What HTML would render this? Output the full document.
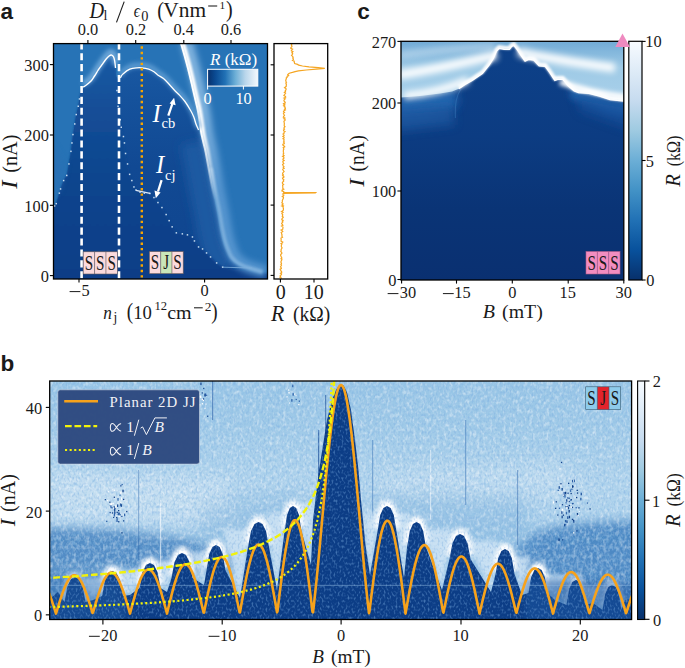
<!DOCTYPE html>
<html><head><meta charset="utf-8"><style>
html,body{margin:0;padding:0;background:#fff;width:685px;height:668px;overflow:hidden;}
svg{display:block;}
text{font-family:"Liberation Serif",serif;fill:#1a1a1a;}
.sans{font-family:"Liberation Sans",sans-serif;font-weight:bold;fill:#1a1a1a;}
.it{font-style:italic;}
</style></head><body>
<svg width="685" height="668" viewBox="0 0 685 668">
<defs>
  <clipPath id="cA"><rect x="53.5" y="43.5" width="214" height="235.5"/></clipPath>
  <clipPath id="cA2"><rect x="274" y="43.5" width="53.7" height="235.5"/></clipPath>
  <clipPath id="cC"><rect x="401" y="41.3" width="222.8" height="238.7"/></clipPath>
  <clipPath id="cB"><rect x="49.5" y="381" width="582" height="239"/></clipPath>
  <filter id="bl05" filterUnits="userSpaceOnUse" x="-20" y="-20" width="725" height="708"><feGaussianBlur stdDeviation="0.5"/></filter>
  <filter id="bl1" filterUnits="userSpaceOnUse" x="-20" y="-20" width="725" height="708"><feGaussianBlur stdDeviation="1"/></filter>
  <filter id="bl2" filterUnits="userSpaceOnUse" x="-20" y="-20" width="725" height="708"><feGaussianBlur stdDeviation="2"/></filter>
  <filter id="bl3" filterUnits="userSpaceOnUse" x="-20" y="-20" width="725" height="708"><feGaussianBlur stdDeviation="3"/></filter>
  <filter id="bl5" filterUnits="userSpaceOnUse" x="-20" y="-20" width="725" height="708"><feGaussianBlur stdDeviation="5"/></filter>
  <filter id="bl8" filterUnits="userSpaceOnUse" x="-20" y="-20" width="725" height="708"><feGaussianBlur stdDeviation="8"/></filter>
  <linearGradient id="cbA" x1="0" y1="0" x2="1" y2="0">
    <stop offset="0" stop-color="#08306b"/><stop offset="0.15" stop-color="#0a4a92"/>
    <stop offset="0.35" stop-color="#2171b5"/><stop offset="0.55" stop-color="#6baed6"/>
    <stop offset="0.75" stop-color="#b9d6eb"/><stop offset="1" stop-color="#f3f8fd"/>
  </linearGradient>
  <linearGradient id="cbV" x1="0" y1="1" x2="0" y2="0">
    <stop offset="0" stop-color="#08306b"/><stop offset="0.125" stop-color="#08519c"/>
    <stop offset="0.25" stop-color="#2171b5"/><stop offset="0.375" stop-color="#4292c6"/>
    <stop offset="0.5" stop-color="#6baed6"/><stop offset="0.625" stop-color="#9ecae1"/>
    <stop offset="0.75" stop-color="#c6dbef"/><stop offset="0.875" stop-color="#deebf7"/>
    <stop offset="1" stop-color="#f7fbff"/>
  </linearGradient>
</defs>
<g clip-path="url(#cA)"><rect x="53" y="43" width="215" height="237" fill="#2773b6"/><defs><linearGradient id="gAd" gradientUnits="userSpaceOnUse" x1="0" y1="55" x2="0" y2="279"><stop offset="0" stop-color="#1a5aa4"/><stop offset="0.2" stop-color="#15529c"/><stop offset="0.5" stop-color="#114993"/><stop offset="1" stop-color="#0f458f"/></linearGradient><linearGradient id="gAl" gradientUnits="userSpaceOnUse" x1="0" y1="55" x2="0" y2="279"><stop offset="0" stop-color="#1a5aa4"/><stop offset="0.25" stop-color="#134e97"/><stop offset="0.55" stop-color="#0f458e"/><stop offset="1" stop-color="#0c3e87"/></linearGradient></defs><path fill="url(#gAd)" d="M53.0,207.0 L56.3,203.7 L59.4,193.2 L60.5,189.0 L63.6,180.6 L66.8,175.4 L68.9,163.9 L71.0,151.3 L72.0,142.9 L73.0,134.5 L74.7,124.0 L76.2,114.6 L78.3,106.2 L79.4,98.9 L80.5,92.0 L82.0,88.0 L83.2,87.2 L87.0,84.5 L91.5,80.4 L94.5,76.0 L98.2,70.0 L102.0,64.7 L105.7,59.5 L109.4,55.7 L111.7,55.1 L113.5,56.8 L114.7,61.0 L115.5,68.0 L116.0,76.0 L118.0,79.0 L120.4,77.9 L123.0,73.9 L129.8,69.2 L136.6,67.8 L142.0,67.8 L148.7,69.2 L154.0,71.8 L158.1,75.2 L163.5,78.6 L168.9,84.0 L174.3,90.0 L179.7,95.4 L185.0,101.5 L190.5,110.3 L193.8,117.0 L195.9,123.7 L198.5,130.0 L205.6,152.0 L208.5,168.0 L211.5,185.0 L214.5,200.0 L217.5,215.0 L220.0,230.0 L222.8,242.0 L225.7,250.0 L229.0,257.0 L234.0,262.0 L241.0,266.0 L250.0,269.0 L260.0,272.0 L268.0,275.0 L268.0,280.0 L53.0,280.0 Z"/><path fill="none" stroke="#1a5aa2" stroke-width="22" filter="url(#bl5)" d="M191.5,143.0 C191.8,144.5 192.8,147.8 193.6,152.0 C194.4,156.2 195.5,162.5 196.5,168.0 C197.5,173.5 198.5,179.7 199.5,185.0 C200.5,190.3 201.5,195.0 202.5,200.0 C203.5,205.0 204.6,210.0 205.5,215.0 C206.4,220.0 207.1,225.5 208.0,230.0 C208.9,234.5 209.9,238.7 210.8,242.0 C211.8,245.3 212.7,247.5 213.7,250.0 C214.7,252.5 215.6,255.0 217.0,257.0 C218.4,259.0 220.0,260.5 222.0,262.0 C224.0,263.5 227.8,265.3 229.0,266.0"/><path fill="url(#gAl)" filter="url(#bl1)" d="M53.0,208.0 L56.3,203.7 L59.4,193.2 L60.5,189.0 L63.6,180.6 L66.8,175.4 L68.9,163.9 L71.0,151.3 L72.0,142.9 L73.0,134.5 L74.7,124.0 L76.2,114.6 L78.3,106.2 L79.4,98.9 L80.0,95.0 L82.0,90.0 L83.2,89.2 L87.0,86.5 L91.5,82.4 L94.5,78.0 L98.2,72.0 L102.0,66.7 L105.7,61.5 L109.4,57.7 L111.7,57.1 L113.5,58.8 L114.7,63.0 L115.5,70.0 L116.0,80.0 L118.0,95.0 L118.1,106.2 L120.2,119.8 L121.3,127.2 L123.4,136.6 L124.4,142.9 L125.5,153.4 L127.6,163.9 L129.7,174.3 L131.8,180.6 L133.9,186.9 L136.0,190.1 L140.1,192.2 L144.3,193.2 L150.0,193.4 L154.0,197.5 L158.0,202.5 L162.0,207.6 L166.2,214.6 L169.2,220.7 L172.2,226.8 L176.3,232.8 L182.3,233.8 L187.4,234.8 L192.4,236.9 L194.4,240.9 L198.5,247.0 L202.5,249.0 L206.6,253.0 L210.6,257.0 L216.7,263.0 L222.7,267.2 L235.0,270.0 L268.0,273.0 L268.0,282.0 L53.0,282.0 Z"/><path fill="#2a6fb3" opacity="0.5" filter="url(#bl3)" d="M50,140 L66,165 L60,190 L50,200 Z"/><defs><linearGradient id="gBandW" gradientUnits="userSpaceOnUse" x1="0" y1="130" x2="0" y2="200"><stop offset="0" stop-color="#ffffff" stop-opacity="1"/><stop offset="1" stop-color="#ffffff" stop-opacity="0"/></linearGradient><linearGradient id="gBandL" gradientUnits="userSpaceOnUse" x1="0" y1="110" x2="0" y2="190"><stop offset="0" stop-color="#7fb2de" stop-opacity="1"/><stop offset="1" stop-color="#5494cf" stop-opacity="1"/></linearGradient></defs><path fill="none" stroke="url(#gBandL)" stroke-width="12" filter="url(#bl3)" d="M186.6,42.0 C187.3,44.4 189.5,51.8 190.8,56.5 C192.1,61.2 193.3,65.5 194.4,70.0 C195.5,74.5 196.6,78.9 197.6,83.4 C198.6,87.9 199.7,92.6 200.7,96.9 C201.7,101.2 202.7,105.0 203.5,109.0 C204.3,113.0 204.9,117.0 205.5,121.0 C206.1,125.0 206.6,129.3 207.3,133.0 C208.0,136.7 208.8,139.8 209.5,143.0 C210.2,146.2 210.8,147.8 211.6,152.0 C212.4,156.2 213.5,162.5 214.5,168.0 C215.5,173.5 216.5,179.7 217.5,185.0 C218.5,190.3 219.5,195.0 220.5,200.0 C221.5,205.0 222.6,210.0 223.5,215.0 C224.4,220.0 225.1,225.5 226.0,230.0 C226.9,234.5 227.9,238.7 228.8,242.0 C229.8,245.3 230.7,247.5 231.7,250.0 C232.7,252.5 233.6,255.0 235.0,257.0 C236.4,259.0 238.0,260.5 240.0,262.0 C242.0,263.5 244.3,264.8 247.0,266.0 C249.7,267.2 252.8,268.0 256.0,269.0 C259.2,270.0 264.3,271.5 266.0,272.0"/><path fill="none" stroke="#8dbbe3" stroke-width="4" opacity="0.7" filter="url(#bl1)" d="M211.0,168.0 C211.5,170.8 213.0,179.7 214.0,185.0 C215.0,190.3 216.0,195.0 217.0,200.0 C218.0,205.0 219.1,210.0 220.0,215.0 C220.9,220.0 221.6,225.5 222.5,230.0 C223.4,234.5 224.4,238.7 225.3,242.0 C226.2,245.3 227.2,247.5 228.2,250.0 C229.2,252.5 230.1,255.0 231.5,257.0 C232.9,259.0 234.5,260.5 236.5,262.0 C238.5,263.5 240.8,264.8 243.5,266.0 C246.2,267.2 249.3,268.0 252.5,269.0 C255.7,270.0 260.8,271.5 262.5,272.0"/><path fill="none" stroke="url(#gBandW)" stroke-width="4" filter="url(#bl1)" d="M182.8,42.0 C183.5,44.4 185.7,51.8 187.0,56.5 C188.3,61.2 189.5,65.5 190.6,70.0 C191.7,74.5 192.8,78.9 193.8,83.4 C194.8,87.9 195.9,92.6 196.9,96.9 C197.9,101.2 198.9,105.0 199.7,109.0 C200.5,113.0 201.1,117.0 201.7,121.0 C202.3,125.0 202.8,129.3 203.5,133.0 C204.2,136.7 205.0,139.8 205.7,143.0 C206.4,146.2 207.0,147.8 207.8,152.0 C208.6,156.2 209.7,162.5 210.7,168.0 C211.7,173.5 212.7,179.7 213.7,185.0 C214.7,190.3 215.7,195.0 216.7,200.0 C217.7,205.0 218.8,210.0 219.7,215.0 C220.6,220.0 221.8,227.5 222.2,230.0"/><path fill="none" stroke="url(#gBandW)" stroke-width="1.9" d="M180.6,42.0 C181.3,44.4 183.5,51.8 184.8,56.5 C186.1,61.2 187.3,65.5 188.4,70.0 C189.5,74.5 190.6,78.9 191.6,83.4 C192.6,87.9 193.7,92.6 194.7,96.9 C195.7,101.2 196.7,105.0 197.5,109.0 C198.3,113.0 198.9,117.0 199.5,121.0 C200.1,125.0 200.6,129.3 201.3,133.0 C202.0,136.7 202.8,139.8 203.5,143.0 C204.2,146.2 204.8,147.8 205.6,152.0 C206.4,156.2 207.5,162.5 208.5,168.0 C209.5,173.5 210.5,179.7 211.5,185.0 C212.5,190.3 213.5,195.0 214.5,200.0 C215.5,205.0 216.6,210.0 217.5,215.0 C218.4,220.0 219.6,227.5 220.0,230.0"/><path fill="none" stroke="#6ea7d9" stroke-width="6" filter="url(#bl2)" d="M83.2,84.2 C83.8,83.8 85.6,82.6 87.0,81.5 C88.4,80.4 90.2,78.8 91.5,77.4 C92.8,76.0 93.4,74.7 94.5,73.0 C95.6,71.3 97.0,68.9 98.2,67.0 C99.5,65.1 100.8,63.5 102.0,61.7 C103.2,60.0 104.5,58.0 105.7,56.5 C106.9,55.0 108.4,53.4 109.4,52.7 C110.4,52.0 111.0,51.9 111.7,52.1 C112.4,52.3 113.0,52.8 113.5,53.8 C114.0,54.8 114.4,56.1 114.7,58.0 C115.0,59.9 115.4,63.8 115.5,65.0"/><path fill="none" stroke="#5d9bd2" stroke-width="5" filter="url(#bl2)" d="M120.4,75.4 C120.8,74.7 121.4,72.9 123.0,71.4 C124.6,70.0 127.5,67.7 129.8,66.7 C132.1,65.7 134.6,65.5 136.6,65.3 C138.6,65.1 140.0,65.1 142.0,65.3 C144.0,65.5 146.7,66.0 148.7,66.7 C150.7,67.4 152.4,68.3 154.0,69.3 C155.6,70.3 156.5,71.6 158.1,72.7 C159.7,73.8 161.7,74.6 163.5,76.1 C165.3,77.6 167.1,79.6 168.9,81.5 C170.7,83.4 172.5,85.6 174.3,87.5 C176.1,89.4 177.9,91.0 179.7,92.9 C181.5,94.8 183.2,96.5 185.0,99.0 C186.8,101.5 189.0,105.2 190.5,107.8 C192.0,110.4 192.9,112.3 193.8,114.5 C194.7,116.7 195.1,119.0 195.9,121.2 C196.7,123.4 198.1,126.5 198.5,127.5"/><path fill="none" stroke="#ffffff" stroke-width="1.4" d="M83.2,87.2 C83.8,86.8 85.6,85.6 87.0,84.5 C88.4,83.4 90.2,81.8 91.5,80.4 C92.8,79.0 93.4,77.7 94.5,76.0 C95.6,74.3 97.0,71.9 98.2,70.0 C99.5,68.1 100.8,66.5 102.0,64.7 C103.2,63.0 104.5,61.0 105.7,59.5 C106.9,58.0 108.4,56.4 109.4,55.7 C110.4,55.0 111.0,54.9 111.7,55.1 C112.4,55.3 113.0,55.8 113.5,56.8 C114.0,57.8 114.4,59.1 114.7,61.0 C115.0,62.9 115.4,66.8 115.5,68.0"/><path fill="none" stroke="#ffffff" stroke-width="1.3" d="M120.4,77.9 C120.8,77.2 121.4,75.4 123.0,73.9 C124.6,72.5 127.5,70.2 129.8,69.2 C132.1,68.2 134.6,68.0 136.6,67.8 C138.6,67.6 140.0,67.6 142.0,67.8 C144.0,68.0 146.7,68.5 148.7,69.2 C150.7,69.9 152.4,70.8 154.0,71.8 C155.6,72.8 156.5,74.1 158.1,75.2 C159.7,76.3 161.7,77.1 163.5,78.6 C165.3,80.1 167.1,82.1 168.9,84.0 C170.7,85.9 172.5,88.1 174.3,90.0 C176.1,91.9 177.9,93.5 179.7,95.4 C181.5,97.3 183.2,99.0 185.0,101.5 C186.8,104.0 189.0,107.7 190.5,110.3 C192.0,112.9 192.9,114.8 193.8,117.0 C194.7,119.2 195.1,121.5 195.9,123.7 C196.7,125.9 198.1,128.9 198.5,130.0"/><rect x="53.8" y="205.2" width="1.5" height="1.5" fill="#c6dcf1"/><rect x="55.5" y="202.9" width="1.5" height="1.5" fill="#c6dcf1"/><rect x="58.6" y="192.4" width="1.5" height="1.5" fill="#c6dcf1"/><rect x="59.8" y="188.2" width="1.5" height="1.5" fill="#c6dcf1"/><rect x="62.9" y="179.8" width="1.5" height="1.5" fill="#c6dcf1"/><rect x="66.0" y="174.7" width="1.5" height="1.5" fill="#c6dcf1"/><rect x="68.2" y="163.2" width="1.5" height="1.5" fill="#c6dcf1"/><rect x="70.2" y="150.6" width="1.5" height="1.5" fill="#c6dcf1"/><rect x="71.2" y="142.2" width="1.5" height="1.5" fill="#c6dcf1"/><rect x="72.2" y="133.8" width="1.5" height="1.5" fill="#c6dcf1"/><rect x="74.0" y="123.2" width="1.5" height="1.5" fill="#c6dcf1"/><rect x="75.5" y="113.8" width="1.5" height="1.5" fill="#c6dcf1"/><rect x="77.5" y="105.5" width="1.5" height="1.5" fill="#c6dcf1"/><rect x="78.7" y="98.2" width="1.5" height="1.5" fill="#c6dcf1"/><rect x="116.2" y="89.8" width="1.5" height="1.5" fill="#c6dcf1"/><rect x="117.3" y="105.5" width="1.5" height="1.5" fill="#c6dcf1"/><rect x="119.5" y="119.0" width="1.5" height="1.5" fill="#c6dcf1"/><rect x="120.5" y="126.5" width="1.5" height="1.5" fill="#c6dcf1"/><rect x="122.7" y="135.8" width="1.5" height="1.5" fill="#c6dcf1"/><rect x="123.7" y="142.2" width="1.5" height="1.5" fill="#c6dcf1"/><rect x="124.8" y="152.7" width="1.5" height="1.5" fill="#c6dcf1"/><rect x="126.8" y="163.2" width="1.5" height="1.5" fill="#c6dcf1"/><rect x="128.9" y="173.6" width="1.5" height="1.5" fill="#c6dcf1"/><rect x="131.1" y="179.8" width="1.5" height="1.5" fill="#c6dcf1"/><rect x="133.2" y="186.2" width="1.5" height="1.5" fill="#c6dcf1"/><rect x="135.2" y="189.3" width="1.5" height="1.5" fill="#c6dcf1"/><rect x="139.3" y="191.4" width="1.5" height="1.5" fill="#c6dcf1"/><rect x="143.6" y="192.4" width="1.5" height="1.5" fill="#c6dcf1"/><rect x="149.2" y="192.7" width="1.5" height="1.5" fill="#c6dcf1"/><rect x="153.2" y="196.8" width="1.5" height="1.5" fill="#c6dcf1"/><rect x="157.2" y="201.8" width="1.5" height="1.5" fill="#c6dcf1"/><rect x="161.2" y="206.8" width="1.5" height="1.5" fill="#c6dcf1"/><rect x="165.4" y="213.8" width="1.5" height="1.5" fill="#c6dcf1"/><rect x="168.4" y="219.9" width="1.5" height="1.5" fill="#c6dcf1"/><rect x="171.4" y="226.1" width="1.5" height="1.5" fill="#c6dcf1"/><rect x="175.6" y="232.1" width="1.5" height="1.5" fill="#c6dcf1"/><rect x="181.6" y="233.1" width="1.5" height="1.5" fill="#c6dcf1"/><rect x="186.7" y="234.1" width="1.5" height="1.5" fill="#c6dcf1"/><rect x="191.7" y="236.2" width="1.5" height="1.5" fill="#c6dcf1"/><rect x="193.7" y="240.2" width="1.5" height="1.5" fill="#c6dcf1"/><rect x="197.8" y="246.2" width="1.5" height="1.5" fill="#c6dcf1"/><rect x="201.8" y="248.2" width="1.5" height="1.5" fill="#c6dcf1"/><rect x="205.8" y="252.2" width="1.5" height="1.5" fill="#c6dcf1"/><rect x="209.8" y="256.2" width="1.5" height="1.5" fill="#c6dcf1"/><rect x="215.9" y="262.2" width="1.5" height="1.5" fill="#c6dcf1"/><rect x="221.9" y="266.4" width="1.5" height="1.5" fill="#c6dcf1"/><path fill="none" stroke="#dfeaf6" stroke-width="1.3" d="M136,190.3 L150,193.3"/><path fill="none" stroke="#7fb0dd" stroke-width="1" opacity="0.8" d="M222.7,267.2 L252,268"/><line x1="81.6" y1="42.3" x2="81.6" y2="281" stroke="#fff" stroke-width="2.6" stroke-dasharray="7.1 3.8"/><line x1="119" y1="42.3" x2="119" y2="281" stroke="#fff" stroke-width="2.6" stroke-dasharray="7.1 3.8"/><line x1="141.8" y1="46.3" x2="141.8" y2="281" stroke="#f7a500" stroke-width="2.4" stroke-dasharray="2.4 3.05"/><rect x="83.20" y="251.80" width="11.37" height="22.20" fill="#fadadd"/><rect x="94.57" y="251.80" width="11.37" height="22.20" fill="#fadadd"/><rect x="105.93" y="251.80" width="11.37" height="22.20" fill="#fadadd"/><rect x="83.20" y="251.80" width="34.10" height="22.20" fill="none" stroke="#6a5a5a" stroke-width="0.6"/><line x1="94.57" y1="251.80" x2="94.57" y2="274.00" stroke="#6a5a5a" stroke-width="0.6"/><line x1="105.93" y1="251.80" x2="105.93" y2="274.00" stroke="#6a5a5a" stroke-width="0.6"/><text transform="translate(88.88,269.60) scale(0.72,1)" font-size="21.0" text-anchor="middle" style="fill:#1a1a1a">S</text><text transform="translate(100.25,269.60) scale(0.72,1)" font-size="21.0" text-anchor="middle" style="fill:#1a1a1a">S</text><text transform="translate(111.62,269.60) scale(0.72,1)" font-size="21.0" text-anchor="middle" style="fill:#1a1a1a">S</text><rect x="149.40" y="251.60" width="11.27" height="22.10" fill="#fadadd"/><rect x="160.67" y="251.60" width="11.27" height="22.10" fill="#c9e6b9"/><rect x="171.93" y="251.60" width="11.27" height="22.10" fill="#fadadd"/><rect x="149.40" y="251.60" width="33.80" height="22.10" fill="none" stroke="#6a5a5a" stroke-width="0.6"/><line x1="160.67" y1="251.60" x2="160.67" y2="273.70" stroke="#6a5a5a" stroke-width="0.6"/><line x1="171.93" y1="251.60" x2="171.93" y2="273.70" stroke="#6a5a5a" stroke-width="0.6"/><text transform="translate(155.03,269.30) scale(0.72,1)" font-size="21.0" text-anchor="middle" style="fill:#1a1a1a">S</text><text transform="translate(166.30,269.30) scale(0.72,1)" font-size="21.0" text-anchor="middle" style="fill:#1a1a1a">J</text><text transform="translate(177.57,269.30) scale(0.72,1)" font-size="21.0" text-anchor="middle" style="fill:#1a1a1a">S</text><rect x="207.6" y="69.3" width="50.2" height="16.8" fill="url(#cbA)" stroke="#fff" stroke-width="1"/><line x1="207.6" y1="86" x2="207.6" y2="89.5" stroke="#fff" stroke-width="1"/><line x1="243.4" y1="86" x2="243.4" y2="89.5" stroke="#fff" stroke-width="1"/><text x="210" y="64.7" font-size="17" style="fill:#fff"><tspan class="it">R</tspan> (kΩ)</text><text transform="translate(207.55,103.6) scale(0.93,1)" font-size="17.4" text-anchor="middle" style="fill:#fff">0</text><text transform="translate(243.6,103.6) scale(0.93,1)" font-size="17.4" text-anchor="middle" style="fill:#fff">10</text><text x="152.6" y="121.8" font-size="24.5" class="it" style="fill:#fff">I</text><text x="161.6" y="128.3" font-size="14.5" style="fill:#fff">cb</text><line x1="168.3" y1="115.6" x2="172.3" y2="104" stroke="#fff" stroke-width="2.3"/><path d="M174.1,97.8 L175.6,105.3 L169.6,103.4 Z" fill="#fff"/><text x="156" y="173" font-size="24.5" class="it" style="fill:#fff">I</text><text x="165" y="180" font-size="14.5" style="fill:#fff">cj</text><line x1="161.6" y1="180.2" x2="158" y2="191.5" stroke="#fff" stroke-width="2.3"/><path d="M155.8,198.2 L154.5,190.6 L160.6,192.5 Z" fill="#fff"/></g><rect x="53.5" y="43.6" width="214" height="235.4" fill="none" stroke="#000" stroke-width="1.3"/><g clip-path="url(#cA2)"><path fill="none" stroke="#f5a623" stroke-width="1.2" d="M291.0,43.6 L291.7,44.4 L291.4,45.2 L291.9,46.0 L291.9,46.8 L290.9,47.6 L290.8,48.4 L292.5,49.2 L291.4,50.0 L291.4,50.8 L292.9,51.6 L291.9,52.4 L292.7,53.2 L292.1,54.0 L292.5,54.8 L291.6,55.6 L292.6,56.4 L293.2,57.2 L292.7,58.0 L293.3,58.8 L293.4,59.6 L292.5,60.4 L294.2,61.2 L294.3,62.0 L294.4,62.8 L294.7,63.6 L297.6,64.4 L298.7,65.2 L302.5,66.0 L309.0,66.8 L318.2,67.6 L324.8,68.4 L316.3,69.2 L306.3,70.0 L298.4,70.8 L295.1,71.6 L292.4,72.4 L289.3,73.2 L288.4,74.0 L287.7,74.8 L288.6,75.6 L287.1,76.4 L287.2,77.2 L286.2,78.0 L286.4,78.8 L286.0,79.6 L285.7,80.4 L286.1,81.2 L285.9,82.0 L286.5,82.8 L285.9,83.6 L286.4,84.4 L286.2,85.2 L286.4,86.0 L285.7,86.8 L284.6,87.6 L285.9,88.4 L286.1,89.2 L285.9,90.0 L285.2,90.8 L285.5,91.6 L284.4,92.4 L285.6,93.2 L285.0,94.0 L284.4,94.8 L283.9,95.6 L285.5,96.4 L285.7,97.2 L283.9,98.0 L285.3,98.8 L284.4,99.6 L283.9,100.4 L284.1,101.2 L285.1,102.0 L285.3,102.8 L283.6,103.6 L284.7,104.4 L283.6,105.2 L284.9,106.0 L284.1,106.8 L285.2,107.6 L285.4,108.4 L284.4,109.2 L285.4,110.0 L284.0,110.8 L283.5,111.6 L284.5,112.4 L283.4,113.2 L283.7,114.0 L284.1,114.8 L284.5,115.6 L283.6,116.4 L283.3,117.2 L285.0,118.0 L283.8,118.8 L285.1,119.6 L285.0,120.4 L283.9,121.2 L284.1,122.0 L284.2,122.8 L284.4,123.6 L284.3,124.4 L284.2,125.2 L284.3,126.0 L285.0,126.8 L284.1,127.6 L283.9,128.4 L284.5,129.2 L283.5,130.0 L283.6,130.8 L285.0,131.6 L284.0,132.4 L284.1,133.2 L283.0,134.0 L283.8,134.8 L284.1,135.6 L282.9,136.4 L284.1,137.2 L284.1,138.0 L283.0,138.8 L284.1,139.6 L283.8,140.4 L284.2,141.2 L283.5,142.0 L284.2,142.8 L284.3,143.6 L282.8,144.4 L282.9,145.2 L284.1,146.0 L284.7,146.8 L283.2,147.6 L283.6,148.4 L283.9,149.2 L283.3,150.0 L283.4,150.8 L283.3,151.6 L283.4,152.4 L283.8,153.2 L283.2,154.0 L283.3,154.8 L284.1,155.6 L282.6,156.4 L283.7,157.2 L284.0,158.0 L283.1,158.8 L282.9,159.6 L284.1,160.4 L283.0,161.2 L282.8,162.0 L283.3,162.8 L283.8,163.6 L282.6,164.4 L283.0,165.2 L283.1,166.0 L284.0,166.8 L283.2,167.6 L284.1,168.4 L282.7,169.2 L283.0,170.0 L283.6,170.8 L284.1,171.6 L283.2,172.4 L282.7,173.2 L282.5,174.0 L283.3,174.8 L282.6,175.6 L283.8,176.4 L283.9,177.2 L282.5,178.0 L282.7,178.8 L283.8,179.6 L283.4,180.4 L283.7,181.2 L282.8,182.0 L282.3,182.8 L282.6,183.6 L283.6,184.4 L282.6,185.2 L282.7,186.0 L282.8,186.8 L282.8,187.6 L282.8,188.4 L283.8,189.2 L282.2,190.0 L281.9,190.8 L283.8,191.6 L283.7,192.4 L315.8,192.5 L315.3,193.0 L283.0,193.3 L283.9,193.2 L282.7,194.0 L283.8,194.8 L283.7,195.6 L282.3,196.4 L283.3,197.2 L283.5,198.0 L283.1,198.8 L282.8,199.6 L282.3,200.4 L282.4,201.2 L282.2,202.0 L281.8,202.8 L282.9,203.6 L282.2,204.4 L283.3,205.2 L281.7,206.0 L283.4,206.8 L283.0,207.6 L283.4,208.4 L283.4,209.2 L283.4,210.0 L282.7,210.8 L281.5,211.6 L283.0,212.4 L281.8,213.2 L282.1,214.0 L282.8,214.8 L282.5,215.6 L282.2,216.4 L283.3,217.2 L282.6,218.0 L282.0,218.8 L281.8,219.6 L283.1,220.4 L282.3,221.2 L282.9,222.0 L282.0,222.8 L281.6,223.6 L282.3,224.4 L282.9,225.2 L281.5,226.0 L282.8,226.8 L283.0,227.6 L282.8,228.4 L282.8,229.2 L281.1,230.0 L282.4,230.8 L282.8,231.6 L281.2,232.4 L281.6,233.2 L281.6,234.0 L282.1,234.8 L281.9,235.6 L281.9,236.4 L282.5,237.2 L281.0,238.0 L281.0,238.8 L281.2,239.6 L281.1,240.4 L281.0,241.2 L282.8,242.0 L282.5,242.8 L281.0,243.6 L281.8,244.4 L281.4,245.2 L281.3,246.0 L281.4,246.8 L282.0,247.6 L281.8,248.4 L281.3,249.2 L281.0,250.0 L281.2,250.8 L280.8,251.6 L281.6,252.4 L281.9,253.2 L281.2,254.0 L280.6,254.8 L280.7,255.6 L281.1,256.4 L281.5,257.2 L281.9,258.0 L281.0,258.8 L281.9,259.6 L281.5,260.4 L281.1,261.2 L280.9,262.0 L281.1,262.8 L281.5,263.6 L280.9,264.4 L281.5,265.2 L281.0,266.0 L280.5,266.8 L281.1,267.6 L281.4,268.4 L280.1,269.2 L280.8,270.0 L280.7,270.8 L281.6,271.6 L281.7,272.4 L280.5,273.2 L281.6,274.0 L281.3,274.8 L280.2,275.6 L280.6,276.4 L279.9,277.2 L281.3,278.0 L280.9,278.8"/></g><rect x="274" y="43.6" width="53.7" height="235.4" fill="none" stroke="#000" stroke-width="1.3"/><defs><linearGradient id="gCd" x1="0" y1="0" x2="0" y2="1"><stop offset="0" stop-color="#0d4189"/><stop offset="0.4" stop-color="#0c3c82"/><stop offset="0.7" stop-color="#0a3476"/><stop offset="1" stop-color="#0a3071"/></linearGradient><linearGradient id="gCup" x1="0" y1="0" x2="0" y2="1"><stop offset="0" stop-color="#6fa9d5"/><stop offset="0.45" stop-color="#9ecae6"/><stop offset="1" stop-color="#a9d0ea"/></linearGradient></defs><g clip-path="url(#cC)"><rect x="400" y="41" width="225" height="240" fill="url(#gCd)"/><path fill="#2465ae" filter="url(#bl5)" d="M396,95 L456,88 L458,104 L450,112 L430,116 L396,120 Z"/><path fill="#1a569f" opacity="0.8" filter="url(#bl5)" d="M396,110 L452,106 L455,125 L396,132 Z"/><path fill="#2263ac" filter="url(#bl3)" d="M570,88 L590,94 L610,99 L630,101 L630,118 L610,114 L590,106 L570,98 Z"/><path fill="#16509a" opacity="0.7" filter="url(#bl5)" d="M575,96 L630,106 L630,130 L580,112 Z"/><path fill="none" stroke="#3d7fc0" stroke-width="1.1" opacity="0.45" filter="url(#bl05)" d="M461,89 C456,96 455,104 455.4,118"/><path fill="url(#gCup)" d="M400.0,40.0 L401.0,97.5 L420.0,96.0 L440.0,93.5 L452.0,91.5 L458.8,88.7 L465.0,84.5 L472.2,80.3 L482.3,73.6 L489.0,65.2 L493.2,58.5 L496.5,50.9 L499.0,48.4 L504.1,49.2 L507.4,49.4 L509.4,49.3 L511.6,46.4 L513.8,45.3 L517.3,49.6 L520.8,54.9 L525.1,61.0 L528.7,59.3 L533.9,60.1 L539.2,65.9 L545.3,66.3 L549.7,72.4 L554.9,80.3 L557.6,79.4 L562.8,79.4 L568.1,85.5 L574.2,90.8 L578.6,92.6 L589.1,93.4 L599.6,96.1 L610.1,99.6 L617.1,100.4 L624.5,101.0 L625.0,40.0 Z"/><path fill="none" stroke="#cfe3f3" stroke-width="5" opacity="0.7" filter="url(#bl3)" d="M400,55 C430,51 465,48 495,46"/><path fill="none" stroke="#ffffff" stroke-width="9" opacity="0.95" filter="url(#bl3)" d="M398,75 C425,71 455,65 497,55"/><path fill="none" stroke="#ffffff" stroke-width="9" opacity="0.95" filter="url(#bl3)" d="M518,52 C540,57 565,61 600,66 L615,68"/><path fill="none" stroke="#ffffff" stroke-width="7" filter="url(#bl3)" d="M404,96 C425,94 448,89 468,80"/><path fill="none" stroke="#ffffff" stroke-width="6" filter="url(#bl2)" d="M560,82 C580,89 600,94 626,97"/><path fill="none" stroke="#ffffff" stroke-width="3.5" filter="url(#bl1)" d="M458.8,87.1 L465.0,82.9 L472.2,78.7 L482.3,72.0 L489.0,63.6 L493.2,56.9 L496.5,49.3 L499.0,46.8 L504.1,47.6 L507.4,47.8 L509.4,47.7 L511.6,44.8 L513.8,43.7 L517.3,48.0 L520.8,53.3 L525.1,59.4 L528.7,57.7 L533.9,58.5 L539.2,64.3 L545.3,64.7 L549.7,70.8 L554.9,78.7 L557.6,77.8 L562.8,77.8 L568.1,83.9 L574.2,89.2 L578.6,91.0 L589.1,91.8 L599.6,94.5 L610.1,98.0 L617.1,98.8 L624.5,99.4"/><path fill="none" stroke="#ffffff" stroke-width="1.4" d="M458.8,88.7 L465.0,84.5 L472.2,80.3 L482.3,73.6 L489.0,65.2 L493.2,58.5 L496.5,50.9 L499.0,48.4 L504.1,49.2 L507.4,49.4 L509.4,49.3 L511.6,46.4 L513.8,45.3 L517.3,49.6 L520.8,54.9 L525.1,61.0 L528.7,59.3 L533.9,60.1 L539.2,65.9 L545.3,66.3 L549.7,72.4 L554.9,80.3 L557.6,79.4 L562.8,79.4 L568.1,85.5 L574.2,90.8 L578.6,92.6 L589.1,93.4 L599.6,96.1 L610.1,99.6 L617.1,100.4 L624.5,101.0"/><rect x="586.00" y="251.50" width="11.33" height="22.50" fill="#f28dc0"/><rect x="597.33" y="251.50" width="11.33" height="22.50" fill="#f28dc0"/><rect x="608.67" y="251.50" width="11.33" height="22.50" fill="#f28dc0"/><rect x="586.00" y="251.50" width="34.00" height="22.50" fill="none" stroke="#b05a88" stroke-width="0.6"/><line x1="597.33" y1="251.50" x2="597.33" y2="274.00" stroke="#b05a88" stroke-width="0.6"/><line x1="608.67" y1="251.50" x2="608.67" y2="274.00" stroke="#b05a88" stroke-width="0.6"/><text transform="translate(591.67,269.60) scale(0.72,1)" font-size="21.0" text-anchor="middle" style="fill:#1a1a1a">S</text><text transform="translate(603.00,269.60) scale(0.72,1)" font-size="21.0" text-anchor="middle" style="fill:#1a1a1a">S</text><text transform="translate(614.33,269.60) scale(0.72,1)" font-size="21.0" text-anchor="middle" style="fill:#1a1a1a">S</text></g><rect x="401" y="41.3" width="222.8" height="238.7" fill="none" stroke="#000" stroke-width="1.3"/><rect x="628.8" y="41.3" width="13.2" height="238.7" fill="url(#cbV)" stroke="#000" stroke-width="1.2"/><path d="M622.5,33.5 L630,47 L615.3,47 Z" fill="#ef8ac0"/><defs><linearGradient id="gBbg" gradientUnits="userSpaceOnUse" x1="0" y1="381" x2="0" y2="620"><stop offset="0" stop-color="#98c5e6"/><stop offset="0.2" stop-color="#a0cae8"/><stop offset="0.42" stop-color="#b1d4ed"/><stop offset="0.55" stop-color="#aed2ec"/><stop offset="0.72" stop-color="#9cc7e6"/><stop offset="1" stop-color="#90bfe3"/></linearGradient><filter id="nzW" x="0" y="0" width="100%" height="100%"><feTurbulence type="fractalNoise" baseFrequency="0.3 0.22" numOctaves="2" seed="4"/><feColorMatrix type="matrix" values="0 0 0 0 1  0 0 0 0 1  0 0 0 0 1  2.2 0 0 0 -0.95"/></filter><filter id="nzD" x="0" y="0" width="100%" height="100%"><feTurbulence type="fractalNoise" baseFrequency="0.32 0.24" numOctaves="2" seed="11"/><feColorMatrix type="matrix" values="0 0 0 0 0.3  0 0 0 0 0.56  0 0 0 0 0.8  -2.2 0 0 0 1.15"/></filter><filter id="nzL" x="0" y="0" width="100%" height="100%"><feTurbulence type="fractalNoise" baseFrequency="0.5 0.35" numOctaves="1" seed="21"/><feColorMatrix type="matrix" values="0 0 0 0 0.2  0 0 0 0 0.42  0 0 0 0 0.75  3 0 0 0 -1.45"/></filter><linearGradient id="gGlow" x1="0" y1="0" x2="0" y2="1"><stop offset="0" stop-color="#ffffff" stop-opacity="1"/><stop offset="1" stop-color="#ffffff" stop-opacity="0.35"/></linearGradient></defs><g clip-path="url(#cB)"><rect x="49" y="380" width="584" height="241" fill="url(#gBbg)"/><path fill="#d5e7f5" opacity="0.55" filter="url(#bl8)" d="M50,470 L230,480 L230,525 L50,525 Z"/><path fill="#d5e7f5" opacity="0.35" filter="url(#bl8)" d="M380,470 L560,460 L600,500 L380,500 Z"/><path fill="#4f89c3" opacity="0.95" filter="url(#bl5)" d="M40,528 C90,527 150,532 200,542 L236,556 L236,572 L40,572 Z"/><path fill="#4a86c2" opacity="0.95" filter="url(#bl5)" d="M640,521 C600,521 565,523 535,532 L515,548 L515,572 L560,580 L640,585 Z"/><path fill="#3f7dbd" opacity="0.8" filter="url(#bl3)" d="M40,570 L100,572 L100,600 L40,600 Z"/><path fill="#3b79ba" opacity="0.8" filter="url(#bl3)" d="M555,575 L640,580 L640,600 L555,600 Z"/><path fill="#7fb2dc" opacity="0.45" filter="url(#bl8)" d="M375,495 L530,500 L530,545 L375,545 Z"/><path fill="#7fb2dc" opacity="0.4" filter="url(#bl8)" d="M200,505 L305,490 L305,545 L200,545 Z"/><rect x="49" y="380" width="584" height="241" filter="url(#nzW)" opacity="0.5"/><rect x="49" y="380" width="584" height="241" filter="url(#nzD)" opacity="0.6"/><rect x="114.7" y="512.6" width="1.3" height="1.3" fill="#1d4f98"/><rect x="117.0" y="504.4" width="1.3" height="2.6" fill="#1d4f98"/><rect x="116.5" y="511.7" width="1.3" height="1.3" fill="#0d3d86"/><rect x="116.4" y="519.4" width="1.3" height="2.6" fill="#1d4f98"/><rect x="118.5" y="512.5" width="1.3" height="2.6" fill="#1d4f98"/><rect x="114.6" y="506.5" width="1.3" height="1.3" fill="#2d63aa"/><rect x="113.5" y="506.3" width="1.3" height="1.3" fill="#0d3d86"/><rect x="109.7" y="505.0" width="1.3" height="1.3" fill="#2d63aa"/><rect x="109.8" y="501.7" width="1.3" height="1.3" fill="#ffffff"/><rect x="114.3" y="507.0" width="1.3" height="2.6" fill="#1d4f98"/><rect x="118.1" y="521.1" width="1.3" height="1.3" fill="#0d3d86"/><rect x="104.9" y="512.4" width="1.3" height="1.3" fill="#ffffff"/><rect x="116.0" y="513.7" width="1.3" height="1.3" fill="#2d63aa"/><rect x="110.6" y="503.0" width="1.3" height="2.6" fill="#ffffff"/><rect x="109.5" y="511.9" width="1.3" height="1.3" fill="#1d4f98"/><rect x="113.0" y="507.6" width="1.3" height="1.3" fill="#ffffff"/><rect x="120.8" y="504.2" width="1.3" height="2.6" fill="#1d4f98"/><rect x="106.8" y="499.9" width="1.3" height="1.3" fill="#ffffff"/><rect x="113.7" y="496.6" width="1.3" height="1.3" fill="#0d3d86"/><rect x="122.4" y="489.7" width="1.3" height="2.6" fill="#0d3d86"/><rect x="115.1" y="505.3" width="1.3" height="2.6" fill="#ffffff"/><rect x="109.3" y="501.6" width="1.3" height="1.3" fill="#0d3d86"/><rect x="113.8" y="489.6" width="1.3" height="1.3" fill="#ffffff"/><rect x="120.4" y="504.9" width="1.3" height="1.3" fill="#1d4f98"/><rect x="124.0" y="513.6" width="1.3" height="2.6" fill="#2d63aa"/><rect x="116.1" y="517.0" width="1.3" height="1.3" fill="#0d3d86"/><rect x="118.5" y="515.9" width="1.3" height="1.3" fill="#ffffff"/><rect x="120.2" y="491.7" width="1.3" height="2.6" fill="#ffffff"/><rect x="111.9" y="512.3" width="1.3" height="1.3" fill="#0d3d86"/><rect x="117.8" y="512.6" width="1.3" height="2.6" fill="#2d63aa"/><rect x="116.6" y="518.3" width="1.3" height="1.3" fill="#2d63aa"/><rect x="115.4" y="512.9" width="1.3" height="2.6" fill="#ffffff"/><rect x="104.7" y="499.0" width="1.3" height="1.3" fill="#1d4f98"/><rect x="123.0" y="498.8" width="1.3" height="1.3" fill="#0d3d86"/><rect x="114.1" y="510.5" width="1.3" height="1.3" fill="#0d3d86"/><rect x="121.3" y="532.2" width="1.3" height="1.3" fill="#0d3d86"/><rect x="121.2" y="515.8" width="1.3" height="1.3" fill="#1d4f98"/><rect x="110.3" y="503.5" width="1.3" height="2.6" fill="#ffffff"/><rect x="126.1" y="510.9" width="1.3" height="1.3" fill="#0d3d86"/><rect x="107.7" y="491.2" width="1.3" height="1.3" fill="#ffffff"/><rect x="123.0" y="520.2" width="1.3" height="1.3" fill="#0d3d86"/><rect x="113.9" y="508.4" width="1.3" height="2.6" fill="#1d4f98"/><rect x="113.8" y="513.9" width="1.3" height="2.6" fill="#2d63aa"/><rect x="128.2" y="511.2" width="1.3" height="1.3" fill="#ffffff"/><rect x="111.9" y="489.5" width="1.3" height="2.6" fill="#ffffff"/><rect x="121.0" y="497.5" width="1.3" height="2.6" fill="#ffffff"/><rect x="114.0" y="512.0" width="1.3" height="2.6" fill="#2d63aa"/><rect x="110.3" y="505.3" width="1.3" height="2.6" fill="#2d63aa"/><rect x="121.5" y="483.9" width="1.3" height="1.3" fill="#2d63aa"/><rect x="119.4" y="494.6" width="1.3" height="1.3" fill="#2d63aa"/><rect x="111.3" y="507.1" width="1.3" height="1.3" fill="#1d4f98"/><rect x="117.4" y="498.1" width="1.3" height="2.6" fill="#2d63aa"/><rect x="112.4" y="502.9" width="1.3" height="1.3" fill="#ffffff"/><rect x="118.0" y="510.0" width="1.3" height="1.3" fill="#0d3d86"/><rect x="113.0" y="516.8" width="1.3" height="1.3" fill="#1d4f98"/><rect x="119.9" y="503.5" width="1.3" height="2.6" fill="#1d4f98"/><rect x="119.6" y="514.1" width="1.3" height="1.3" fill="#2d63aa"/><rect x="120.1" y="501.8" width="1.3" height="1.3" fill="#ffffff"/><rect x="120.2" y="485.2" width="1.3" height="1.3" fill="#0d3d86"/><rect x="106.1" y="520.7" width="1.3" height="1.3" fill="#2d63aa"/><rect x="568.7" y="504.9" width="1.3" height="1.3" fill="#0d3d86"/><rect x="568.4" y="497.6" width="1.3" height="1.3" fill="#0d3d86"/><rect x="563.4" y="494.1" width="1.3" height="2.6" fill="#0d3d86"/><rect x="567.8" y="506.7" width="1.3" height="2.6" fill="#1d4f98"/><rect x="567.0" y="497.3" width="1.3" height="1.3" fill="#2d63aa"/><rect x="571.8" y="506.7" width="1.3" height="1.3" fill="#0d3d86"/><rect x="567.5" y="492.6" width="1.3" height="1.3" fill="#0d3d86"/><rect x="568.3" y="500.7" width="1.3" height="1.3" fill="#ffffff"/><rect x="560.3" y="483.1" width="1.3" height="1.3" fill="#0d3d86"/><rect x="573.7" y="479.6" width="1.3" height="2.6" fill="#2d63aa"/><rect x="571.8" y="518.7" width="1.3" height="1.3" fill="#0d3d86"/><rect x="557.6" y="489.7" width="1.3" height="1.3" fill="#2d63aa"/><rect x="573.1" y="520.1" width="1.3" height="2.6" fill="#1d4f98"/><rect x="576.8" y="513.0" width="1.3" height="2.6" fill="#0d3d86"/><rect x="555.0" y="507.7" width="1.3" height="1.3" fill="#0d3d86"/><rect x="567.1" y="516.3" width="1.3" height="2.6" fill="#1d4f98"/><rect x="565.4" y="506.0" width="1.3" height="1.3" fill="#1d4f98"/><rect x="558.4" y="538.5" width="1.3" height="2.6" fill="#0d3d86"/><rect x="568.8" y="515.7" width="1.3" height="2.6" fill="#0d3d86"/><rect x="569.9" y="489.4" width="1.3" height="2.6" fill="#2d63aa"/><rect x="552.8" y="500.8" width="1.3" height="2.6" fill="#ffffff"/><rect x="570.7" y="499.1" width="1.3" height="1.3" fill="#0d3d86"/><rect x="560.9" y="512.0" width="1.3" height="1.3" fill="#ffffff"/><rect x="563.5" y="492.0" width="1.3" height="2.6" fill="#2d63aa"/><rect x="565.8" y="511.8" width="1.3" height="2.6" fill="#2d63aa"/><rect x="562.9" y="494.5" width="1.3" height="1.3" fill="#ffffff"/><rect x="571.8" y="503.0" width="1.3" height="1.3" fill="#1d4f98"/><rect x="570.1" y="499.5" width="1.3" height="1.3" fill="#2d63aa"/><rect x="560.9" y="461.8" width="1.3" height="1.3" fill="#0d3d86"/><rect x="561.2" y="511.2" width="1.3" height="2.6" fill="#1d4f98"/><rect x="562.8" y="514.5" width="1.3" height="1.3" fill="#0d3d86"/><rect x="565.0" y="491.8" width="1.3" height="2.6" fill="#0d3d86"/><rect x="562.0" y="539.2" width="1.3" height="1.3" fill="#1d4f98"/><rect x="570.2" y="503.8" width="1.3" height="1.3" fill="#ffffff"/><rect x="578.8" y="511.0" width="1.3" height="1.3" fill="#ffffff"/><rect x="572.8" y="480.3" width="1.3" height="1.3" fill="#ffffff"/><rect x="576.3" y="530.3" width="1.3" height="1.3" fill="#0d3d86"/><rect x="566.1" y="499.2" width="1.3" height="2.6" fill="#1d4f98"/><rect x="573.0" y="532.2" width="1.3" height="1.3" fill="#ffffff"/><rect x="558.6" y="486.2" width="1.3" height="2.6" fill="#1d4f98"/><rect x="568.6" y="500.9" width="1.3" height="1.3" fill="#1d4f98"/><rect x="589.4" y="508.3" width="1.3" height="1.3" fill="#0d3d86"/><rect x="565.5" y="502.1" width="1.3" height="1.3" fill="#2d63aa"/><rect x="572.4" y="502.9" width="1.3" height="1.3" fill="#2d63aa"/><rect x="576.0" y="496.9" width="1.3" height="1.3" fill="#0d3d86"/><rect x="565.0" y="521.0" width="1.3" height="1.3" fill="#2d63aa"/><rect x="566.2" y="507.2" width="1.3" height="1.3" fill="#ffffff"/><rect x="578.3" y="507.2" width="1.3" height="1.3" fill="#0d3d86"/><rect x="561.8" y="504.1" width="1.3" height="1.3" fill="#0d3d86"/><rect x="561.5" y="488.0" width="1.3" height="2.6" fill="#0d3d86"/><rect x="570.5" y="492.9" width="1.3" height="1.3" fill="#0d3d86"/><rect x="559.4" y="468.2" width="1.3" height="1.3" fill="#ffffff"/><rect x="572.4" y="485.9" width="1.3" height="1.3" fill="#2d63aa"/><rect x="586.8" y="502.4" width="1.3" height="1.3" fill="#2d63aa"/><rect x="577.4" y="514.9" width="1.3" height="1.3" fill="#ffffff"/><rect x="568.5" y="510.0" width="1.3" height="2.6" fill="#0d3d86"/><rect x="564.3" y="495.0" width="1.3" height="2.6" fill="#2d63aa"/><rect x="564.9" y="520.0" width="1.3" height="1.3" fill="#2d63aa"/><rect x="561.8" y="508.7" width="1.3" height="2.6" fill="#ffffff"/><rect x="566.2" y="508.3" width="1.3" height="1.3" fill="#ffffff"/><rect x="566.8" y="505.5" width="1.3" height="1.3" fill="#0d3d86"/><rect x="558.8" y="507.6" width="1.3" height="1.3" fill="#2d63aa"/><rect x="566.3" y="505.0" width="1.3" height="1.3" fill="#ffffff"/><rect x="572.8" y="519.6" width="1.3" height="1.3" fill="#0d3d86"/><rect x="564.0" y="523.8" width="1.3" height="2.6" fill="#1d4f98"/><rect x="580.2" y="497.8" width="1.3" height="2.6" fill="#2d63aa"/><rect x="576.6" y="489.7" width="1.3" height="1.3" fill="#0d3d86"/><rect x="568.0" y="482.7" width="1.3" height="1.3" fill="#0d3d86"/><rect x="564.9" y="524.0" width="1.3" height="1.3" fill="#2d63aa"/><rect x="572.0" y="485.2" width="1.3" height="2.6" fill="#0d3d86"/><rect x="557.2" y="514.4" width="1.3" height="1.3" fill="#0d3d86"/><rect x="576.9" y="492.4" width="1.3" height="1.3" fill="#0d3d86"/><rect x="571.3" y="488.6" width="1.3" height="1.3" fill="#2d63aa"/><rect x="570.7" y="506.5" width="1.3" height="1.3" fill="#ffffff"/><rect x="561.5" y="515.7" width="1.3" height="2.6" fill="#1d4f98"/><rect x="575.6" y="507.0" width="1.3" height="1.3" fill="#2d63aa"/><rect x="566.3" y="520.4" width="1.3" height="2.6" fill="#1d4f98"/><rect x="580.6" y="492.7" width="1.3" height="2.6" fill="#1d4f98"/><rect x="555.6" y="501.2" width="1.3" height="1.3" fill="#0d3d86"/><rect x="571.9" y="479.8" width="1.3" height="2.6" fill="#2d63aa"/><rect x="203.1" y="387.8" width="1.3" height="1.3" fill="#1d4f98"/><rect x="200.1" y="395.4" width="1.3" height="2.6" fill="#ffffff"/><rect x="202.8" y="398.0" width="1.3" height="2.6" fill="#1d4f98"/><rect x="204.3" y="407.8" width="1.3" height="1.3" fill="#ffffff"/><rect x="200.3" y="382.5" width="1.3" height="2.6" fill="#1d4f98"/><rect x="205.3" y="403.5" width="1.3" height="1.3" fill="#ffffff"/><rect x="204.4" y="394.2" width="1.3" height="2.6" fill="#2d63aa"/><rect x="198.3" y="396.0" width="1.3" height="1.3" fill="#ffffff"/><rect x="198.0" y="398.6" width="1.3" height="1.3" fill="#1d4f98"/><rect x="202.5" y="398.9" width="1.3" height="1.3" fill="#ffffff"/><rect x="202.7" y="398.9" width="1.3" height="1.3" fill="#1d4f98"/><rect x="206.0" y="394.6" width="1.3" height="1.3" fill="#2d63aa"/><rect x="201.6" y="392.3" width="1.3" height="1.3" fill="#1d4f98"/><rect x="204.5" y="393.4" width="1.3" height="2.6" fill="#1d4f98"/><rect x="202.7" y="399.8" width="1.3" height="1.3" fill="#ffffff"/><rect x="196.9" y="395.3" width="1.3" height="1.3" fill="#ffffff"/><rect x="207.0" y="415.6" width="1.3" height="1.3" fill="#1d4f98"/><rect x="199.0" y="404.0" width="1.3" height="1.3" fill="#ffffff"/><rect x="201.9" y="398.6" width="1.3" height="1.3" fill="#ffffff"/><rect x="201.8" y="403.1" width="1.3" height="1.3" fill="#ffffff"/><rect x="292.5" y="393.1" width="1.3" height="2.6" fill="#2d63aa"/><rect x="289.0" y="402.5" width="1.3" height="1.3" fill="#ffffff"/><rect x="295.3" y="394.9" width="1.3" height="1.3" fill="#ffffff"/><rect x="290.3" y="379.3" width="1.3" height="1.3" fill="#ffffff"/><rect x="295.6" y="398.8" width="1.3" height="1.3" fill="#2d63aa"/><rect x="294.2" y="393.5" width="1.3" height="1.3" fill="#ffffff"/><rect x="291.0" y="381.1" width="1.3" height="1.3" fill="#ffffff"/><rect x="292.1" y="384.6" width="1.3" height="2.6" fill="#2d63aa"/><rect x="298.1" y="404.0" width="1.3" height="1.3" fill="#ffffff"/><rect x="288.4" y="392.1" width="1.3" height="1.3" fill="#ffffff"/><rect x="298.7" y="400.5" width="1.3" height="1.3" fill="#2d63aa"/><rect x="286.4" y="396.3" width="1.3" height="1.3" fill="#ffffff"/><rect x="289.2" y="373.2" width="1.3" height="1.3" fill="#ffffff"/><rect x="288.1" y="389.4" width="1.3" height="1.3" fill="#ffffff"/><rect x="291.2" y="399.1" width="1.3" height="2.6" fill="#2d63aa"/><rect x="212.0" y="381.0" width="1.2" height="39.0" fill="#2d63aa" opacity="0.60"/><rect x="318.0" y="430.0" width="1.2" height="75.0" fill="#1d4f98" opacity="0.70"/><rect x="325.0" y="395.0" width="1.2" height="75.0" fill="#1d4f98" opacity="0.60"/><rect x="465.0" y="420.0" width="1.2" height="85.0" fill="#3a74b6" opacity="0.50"/><rect x="517.0" y="470.0" width="1.2" height="75.0" fill="#2d63aa" opacity="0.50"/><rect x="372.0" y="440.0" width="1.2" height="80.0" fill="#3a74b6" opacity="0.50"/><rect x="138.0" y="470.0" width="1.2" height="90.0" fill="#2d63aa" opacity="0.40"/><rect x="160.0" y="500.0" width="1.2" height="75.0" fill="#ffffff" opacity="0.60"/><rect x="430.0" y="450.0" width="1.2" height="70.0" fill="#ffffff" opacity="0.50"/><path fill="#cfe4f5" opacity="0.85" filter="url(#bl2)" d="M83.5,578.0 L104.0,578.0 L93.0,600.0 Z"/><path fill="#cfe4f5" opacity="0.85" filter="url(#bl2)" d="M121.0,570.0 L141.5,570.0 L130.0,595.0 Z"/><path fill="#cfe4f5" opacity="0.85" filter="url(#bl2)" d="M158.5,560.0 L173.5,560.0 L167.0,592.0 Z"/><path fill="#cfe4f5" opacity="0.85" filter="url(#bl2)" d="M190.5,552.0 L208.6,552.0 L204.0,585.0 Z"/><path fill="#cfe4f5" opacity="0.85" filter="url(#bl2)" d="M223.4,529.0 L250.0,529.0 L240.0,598.0 Z"/><path fill="#cfe4f5" opacity="0.85" filter="url(#bl2)" d="M267.0,513.0 L286.6,513.0 L277.0,590.0 Z"/><path fill="#cfe4f5" opacity="0.85" filter="url(#bl2)" d="M299.4,502.0 L315.0,502.0 L311.0,565.0 Z"/><path fill="#cfe4f5" opacity="0.85" filter="url(#bl2)" d="M363.5,513.0 L379.6,513.0 L370.0,575.0 Z"/><path fill="#cfe4f5" opacity="0.85" filter="url(#bl2)" d="M394.4,513.0 L409.1,513.0 L404.0,578.0 Z"/><path fill="#cfe4f5" opacity="0.85" filter="url(#bl2)" d="M423.9,529.0 L451.5,529.0 L442.0,590.0 Z"/><path fill="#cfe4f5" opacity="0.85" filter="url(#bl2)" d="M468.5,541.0 L497.6,541.0 L491.0,592.0 Z"/><path fill="#cfe4f5" opacity="0.85" filter="url(#bl2)" d="M512.5,556.0 L530.5,556.0 L522.0,595.0 Z"/><path fill="#cfe4f5" opacity="0.85" filter="url(#bl2)" d="M545.5,575.0 L568.5,575.0 L555.0,600.0 Z"/><path fill="#cfe4f5" opacity="0.85" filter="url(#bl2)" d="M583.5,587.0 L604.5,587.0 L593.0,603.0 Z"/><path fill="none" stroke="#ffffff" stroke-width="7" opacity="0.55" filter="url(#bl2)" d="M64.5,599.5 C65.0,596.8 66.4,587.3 67.5,583.5 C68.6,579.7 69.8,578.0 71.0,576.5 C72.2,575.0 73.7,574.5 75.0,574.5 C76.3,574.5 77.8,575.0 79.0,576.5 C80.2,578.0 81.4,579.7 82.5,583.5 C83.6,587.3 85.0,596.8 85.5,599.5"/><path fill="none" stroke="#ffffff" stroke-width="2.5" opacity="0.55" filter="url(#bl05)" d="M67.5,585.0 C68.1,583.8 69.8,579.5 71.0,578.0 C72.2,576.5 73.7,576.0 75.0,576.0 C76.3,576.0 77.8,576.5 79.0,578.0 C80.2,579.5 81.9,583.8 82.5,585.0"/><path fill="none" stroke="#ffffff" stroke-width="7" opacity="1.00" filter="url(#bl2)" d="M102.0,593.5 C102.5,590.8 103.9,581.3 105.0,577.5 C106.1,573.7 107.2,572.0 108.5,570.5 C109.8,569.0 111.2,568.5 112.5,568.5 C113.8,568.5 115.2,569.0 116.5,570.5 C117.8,572.0 118.9,573.7 120.0,577.5 C121.1,581.3 122.5,590.8 123.0,593.5"/><path fill="none" stroke="#ffffff" stroke-width="2.5" opacity="1.00" filter="url(#bl05)" d="M105.0,579.0 C105.6,577.8 107.2,573.5 108.5,572.0 C109.8,570.5 111.2,570.0 112.5,570.0 C113.8,570.0 115.2,570.5 116.5,572.0 C117.8,573.5 119.4,577.8 120.0,579.0"/><path fill="none" stroke="#ffffff" stroke-width="7" opacity="1.00" filter="url(#bl2)" d="M139.5,585.5 C140.0,582.8 141.4,573.3 142.5,569.5 C143.6,565.7 144.8,564.0 146.0,562.5 C147.2,561.0 148.7,560.5 150.0,560.5 C151.3,560.5 152.8,561.0 154.0,562.5 C155.2,564.0 156.4,565.7 157.5,569.5 C158.6,573.3 160.0,582.8 160.5,585.5"/><path fill="none" stroke="#ffffff" stroke-width="2.5" opacity="1.00" filter="url(#bl05)" d="M142.5,571.0 C143.1,569.8 144.8,565.5 146.0,564.0 C147.2,562.5 148.7,562.0 150.0,562.0 C151.3,562.0 152.8,562.5 154.0,564.0 C155.2,565.5 156.9,569.8 157.5,571.0"/><path fill="none" stroke="#ffffff" stroke-width="7" opacity="1.00" filter="url(#bl2)" d="M171.5,575.5 C172.0,572.8 173.4,563.3 174.5,559.5 C175.6,555.7 176.8,554.0 178.0,552.5 C179.2,551.0 180.7,550.5 182.0,550.5 C183.3,550.5 184.8,551.0 186.0,552.5 C187.2,554.0 188.4,555.7 189.5,559.5 C190.6,563.3 192.0,572.8 192.5,575.5"/><path fill="none" stroke="#ffffff" stroke-width="2.5" opacity="1.00" filter="url(#bl05)" d="M174.5,561.0 C175.1,559.8 176.8,555.5 178.0,554.0 C179.2,552.5 180.7,552.0 182.0,552.0 C183.3,552.0 184.8,552.5 186.0,554.0 C187.2,555.5 188.9,559.8 189.5,561.0"/><path fill="none" stroke="#ffffff" stroke-width="7" opacity="1.00" filter="url(#bl2)" d="M206.6,567.5 C207.0,564.8 208.3,555.3 209.2,551.5 C210.2,547.7 211.3,546.0 212.4,544.5 C213.5,543.0 214.8,542.5 216.0,542.5 C217.2,542.5 218.5,543.0 219.6,544.5 C220.7,546.0 221.8,547.7 222.8,551.5 C223.7,555.3 225.0,564.8 225.4,567.5"/><path fill="none" stroke="#ffffff" stroke-width="2.5" opacity="1.00" filter="url(#bl05)" d="M209.2,553.0 C209.8,551.8 211.3,547.5 212.4,546.0 C213.5,544.5 214.8,544.0 216.0,544.0 C217.2,544.0 218.5,544.5 219.6,546.0 C220.7,547.5 222.2,551.8 222.8,553.0"/><path fill="none" stroke="#ffffff" stroke-width="7" opacity="1.00" filter="url(#bl2)" d="M248.0,544.5 C248.5,541.8 249.9,532.3 251.0,528.5 C252.1,524.7 253.2,523.0 254.5,521.5 C255.8,520.0 257.2,519.5 258.5,519.5 C259.8,519.5 261.2,520.0 262.5,521.5 C263.8,523.0 264.9,524.7 266.0,528.5 C267.1,532.3 268.5,541.8 269.0,544.5"/><path fill="none" stroke="#ffffff" stroke-width="2.5" opacity="1.00" filter="url(#bl05)" d="M251.0,530.0 C251.6,528.8 253.2,524.5 254.5,523.0 C255.8,521.5 257.2,521.0 258.5,521.0 C259.8,521.0 261.2,521.5 262.5,523.0 C263.8,524.5 265.4,528.8 266.0,530.0"/><path fill="none" stroke="#ffffff" stroke-width="7" opacity="1.00" filter="url(#bl2)" d="M284.6,528.5 C285.0,525.8 286.1,516.3 287.0,512.5 C287.9,508.7 288.8,507.0 289.8,505.5 C290.8,504.0 291.9,503.5 293.0,503.5 C294.1,503.5 295.2,504.0 296.2,505.5 C297.2,507.0 298.1,508.7 299.0,512.5 C299.9,516.3 301.0,525.8 301.4,528.5"/><path fill="none" stroke="#ffffff" stroke-width="2.5" opacity="1.00" filter="url(#bl05)" d="M287.0,514.0 C287.5,512.8 288.8,508.5 289.8,507.0 C290.8,505.5 291.9,505.0 293.0,505.0 C294.1,505.0 295.2,505.5 296.2,507.0 C297.2,508.5 298.5,512.8 299.0,514.0"/><path fill="none" stroke="#ffffff" stroke-width="7" opacity="1.00" filter="url(#bl2)" d="M377.6,528.5 C378.0,525.8 379.3,516.3 380.2,512.5 C381.2,508.7 382.3,507.0 383.4,505.5 C384.5,504.0 385.8,503.5 387.0,503.5 C388.2,503.5 389.5,504.0 390.6,505.5 C391.7,507.0 392.8,508.7 393.8,512.5 C394.7,516.3 396.0,525.8 396.4,528.5"/><path fill="none" stroke="#ffffff" stroke-width="2.5" opacity="1.00" filter="url(#bl05)" d="M380.2,514.0 C380.8,512.8 382.3,508.5 383.4,507.0 C384.5,505.5 385.8,505.0 387.0,505.0 C388.2,505.0 389.5,505.5 390.6,507.0 C391.7,508.5 393.2,512.8 393.8,514.0"/><path fill="none" stroke="#ffffff" stroke-width="7" opacity="1.00" filter="url(#bl2)" d="M407.1,544.5 C407.5,541.8 408.8,532.3 409.8,528.5 C410.7,524.7 411.8,523.0 412.9,521.5 C414.0,520.0 415.3,519.5 416.5,519.5 C417.7,519.5 419.0,520.0 420.1,521.5 C421.2,523.0 422.3,524.7 423.2,528.5 C424.2,532.3 425.5,541.8 425.9,544.5"/><path fill="none" stroke="#ffffff" stroke-width="2.5" opacity="1.00" filter="url(#bl05)" d="M409.8,530.0 C410.3,528.8 411.8,524.5 412.9,523.0 C414.0,521.5 415.3,521.0 416.5,521.0 C417.7,521.0 419.0,521.5 420.1,523.0 C421.2,524.5 422.7,528.8 423.2,530.0"/><path fill="none" stroke="#ffffff" stroke-width="7" opacity="1.00" filter="url(#bl2)" d="M449.5,556.5 C450.0,553.8 451.4,544.3 452.5,540.5 C453.6,536.7 454.8,535.0 456.0,533.5 C457.2,532.0 458.7,531.5 460.0,531.5 C461.3,531.5 462.8,532.0 464.0,533.5 C465.2,535.0 466.4,536.7 467.5,540.5 C468.6,544.3 470.0,553.8 470.5,556.5"/><path fill="none" stroke="#ffffff" stroke-width="2.5" opacity="1.00" filter="url(#bl05)" d="M452.5,542.0 C453.1,540.8 454.8,536.5 456.0,535.0 C457.2,533.5 458.7,533.0 460.0,533.0 C461.3,533.0 462.8,533.5 464.0,535.0 C465.2,536.5 466.9,540.8 467.5,542.0"/><path fill="none" stroke="#ffffff" stroke-width="7" opacity="1.00" filter="url(#bl2)" d="M495.6,571.5 C496.0,568.8 497.3,559.3 498.2,555.5 C499.2,551.7 500.3,550.0 501.4,548.5 C502.5,547.0 503.8,546.5 505.0,546.5 C506.2,546.5 507.5,547.0 508.6,548.5 C509.7,550.0 510.8,551.7 511.8,555.5 C512.7,559.3 514.0,568.8 514.5,571.5"/><path fill="none" stroke="#ffffff" stroke-width="2.5" opacity="1.00" filter="url(#bl05)" d="M498.2,557.0 C498.8,555.8 500.3,551.5 501.4,550.0 C502.5,548.5 503.8,548.0 505.0,548.0 C506.2,548.0 507.5,548.5 508.6,550.0 C509.7,551.5 511.2,555.8 511.8,557.0"/><path fill="none" stroke="#ffffff" stroke-width="7" opacity="1.00" filter="url(#bl2)" d="M528.5,590.5 C529.0,587.8 530.3,578.3 531.2,574.5 C532.2,570.7 533.3,569.0 534.4,567.5 C535.5,566.0 536.8,565.5 538.0,565.5 C539.2,565.5 540.5,566.0 541.6,567.5 C542.7,569.0 543.8,570.7 544.8,574.5 C545.7,578.3 547.0,587.8 547.5,590.5"/><path fill="none" stroke="#ffffff" stroke-width="2.5" opacity="1.00" filter="url(#bl05)" d="M531.2,576.0 C531.8,574.8 533.3,570.5 534.4,569.0 C535.5,567.5 536.8,567.0 538.0,567.0 C539.2,567.0 540.5,567.5 541.6,569.0 C542.7,570.5 544.2,574.8 544.8,576.0"/><path fill="none" stroke="#ffffff" stroke-width="7" opacity="0.55" filter="url(#bl2)" d="M566.5,602.5 C567.0,599.8 568.3,590.3 569.2,586.5 C570.2,582.7 571.3,581.0 572.4,579.5 C573.5,578.0 574.8,577.5 576.0,577.5 C577.2,577.5 578.5,578.0 579.6,579.5 C580.7,581.0 581.8,582.7 582.8,586.5 C583.7,590.3 585.0,599.8 585.5,602.5"/><path fill="none" stroke="#ffffff" stroke-width="2.5" opacity="0.55" filter="url(#bl05)" d="M569.2,588.0 C569.8,586.8 571.3,582.5 572.4,581.0 C573.5,579.5 574.8,579.0 576.0,579.0 C577.2,579.0 578.5,579.5 579.6,581.0 C580.7,582.5 582.2,586.8 582.8,588.0"/><path fill="none" stroke="#ffffff" stroke-width="7" opacity="0.55" filter="url(#bl2)" d="M602.5,607.5 C603.0,604.8 604.3,595.3 605.2,591.5 C606.2,587.7 607.3,586.0 608.4,584.5 C609.5,583.0 610.8,582.5 612.0,582.5 C613.2,582.5 614.5,583.0 615.6,584.5 C616.7,586.0 617.8,587.7 618.8,591.5 C619.7,595.3 621.0,604.8 621.5,607.5"/><path fill="none" stroke="#ffffff" stroke-width="2.5" opacity="0.55" filter="url(#bl05)" d="M605.2,593.0 C605.8,591.8 607.3,587.5 608.4,586.0 C609.5,584.5 610.8,584.0 612.0,584.0 C613.2,584.0 614.5,584.5 615.6,586.0 C616.7,587.5 618.2,591.8 618.8,593.0"/><path fill="#0c3d86" d="M45.0,600.0 L52.0,597.0 L58.0,592.0 L64.5,602.0 L67.5,586.0 L71.0,579.0 L75.0,577.0 L79.0,579.0 L82.5,586.0 L85.5,602.0 L93.0,600.0 L102.0,596.0 L105.0,580.0 L108.5,573.0 L112.5,571.0 L116.5,573.0 L120.0,580.0 L123.0,596.0 L130.0,595.0 L139.5,588.0 L142.5,572.0 L146.0,565.0 L150.0,563.0 L154.0,565.0 L157.5,572.0 L160.5,588.0 L167.0,592.0 L171.5,578.0 L174.5,562.0 L178.0,555.0 L182.0,553.0 L186.0,555.0 L189.5,562.0 L192.5,578.0 L204.0,585.0 L206.6,570.0 L209.2,554.0 L212.4,547.0 L216.0,545.0 L219.6,547.0 L222.8,554.0 L225.4,570.0 L240.0,598.0 L248.0,547.0 L251.0,531.0 L254.5,524.0 L258.5,522.0 L262.5,524.0 L266.0,531.0 L269.0,547.0 L277.0,590.0 L284.6,531.0 L287.0,515.0 L289.8,508.0 L293.0,506.0 L296.2,508.0 L299.0,515.0 L301.4,531.0 L311.0,565.0 L313.0,520.0 L316.0,495.0 L319.0,470.0 L323.0,445.0 L327.0,420.0 L332.0,400.0 L336.0,390.0 L339.0,385.5 L341.0,384.3 L343.5,385.5 L347.0,392.0 L351.0,410.0 L355.0,440.0 L358.5,470.0 L361.0,500.0 L363.5,525.0 L365.5,545.0 L370.0,575.0 L377.6,531.0 L380.2,515.0 L383.4,508.0 L387.0,506.0 L390.6,508.0 L393.8,515.0 L396.4,531.0 L404.0,578.0 L407.1,547.0 L409.8,531.0 L412.9,524.0 L416.5,522.0 L420.1,524.0 L423.2,531.0 L425.9,547.0 L442.0,590.0 L449.5,559.0 L452.5,543.0 L456.0,536.0 L460.0,534.0 L464.0,536.0 L467.5,543.0 L470.5,559.0 L491.0,592.0 L495.6,574.0 L498.2,558.0 L501.4,551.0 L505.0,549.0 L508.6,551.0 L511.8,558.0 L514.5,574.0 L522.0,595.0 L528.5,593.0 L531.2,577.0 L534.4,570.0 L538.0,568.0 L541.6,570.0 L544.8,577.0 L547.5,593.0 L555.0,600.0 L566.5,605.0 L569.2,589.0 L572.4,582.0 L576.0,580.0 L579.6,582.0 L582.8,589.0 L585.5,605.0 L593.0,603.0 L602.5,610.0 L605.2,594.0 L608.4,587.0 L612.0,585.0 L615.6,587.0 L618.8,594.0 L621.5,610.0 L625.0,600.0 L636.0,598.0 L636.0,630.0 L45.0,630.0 Z"/><path fill="#2c68ad" opacity="0.35" filter="url(#bl5)" d="M40,575 L120,578 L130,630 L40,630 Z"/><path fill="#1d56a0" opacity="0.55" filter="url(#bl3)" d="M525,578 L640,585 L640,630 L525,630 Z"/><rect x="49" y="380" width="584" height="241" filter="url(#nzL)" opacity="0.5"/><rect x="49" y="584.8" width="584" height="1.2" fill="#8fb8e0" opacity="0.45"/><path fill="none" stroke="#f7a21b" stroke-width="2.6" stroke-linejoin="round" d="M49.0,593.0 L49.5,594.3 L50.0,595.7 L50.5,597.0 L51.0,598.4 L51.5,599.9 L52.0,601.3 L52.5,602.8 L53.0,604.3 L53.5,605.8 L54.0,607.4 L54.5,608.9 L55.0,610.4 L55.5,612.0 L56.0,613.6 L56.5,611.9 L57.0,610.3 L57.5,608.6 L58.0,607.0 L58.5,605.4 L59.0,603.8 L59.5,602.2 L60.0,600.7 L60.5,599.1 L61.0,597.6 L61.5,596.1 L62.0,594.7 L62.5,593.3 L63.0,591.9 L63.5,590.6 L64.0,589.3 L64.5,588.0 L65.0,586.8 L65.5,585.7 L66.0,584.6 L66.5,583.5 L67.0,582.5 L67.5,581.6 L68.0,580.7 L68.5,579.9 L69.0,579.1 L69.5,578.4 L70.0,577.8 L70.5,577.2 L71.0,576.7 L71.5,576.3 L72.0,576.0 L72.5,575.7 L73.0,575.4 L73.5,575.3 L74.0,575.2 L74.5,575.2 L75.0,575.2 L75.5,575.4 L76.0,575.6 L76.5,575.8 L77.0,576.2 L77.5,576.6 L78.0,577.0 L78.5,577.6 L79.0,578.2 L79.5,578.8 L80.0,579.6 L80.5,580.4 L81.0,581.2 L81.5,582.1 L82.0,583.1 L82.5,584.1 L83.0,585.2 L83.5,586.4 L84.0,587.5 L84.5,588.8 L85.0,590.1 L85.5,591.4 L86.0,592.7 L86.5,594.1 L87.0,595.6 L87.5,597.0 L88.0,598.5 L88.5,600.1 L89.0,601.6 L89.5,603.2 L90.0,604.8 L90.5,606.4 L91.0,608.0 L91.5,609.6 L92.0,611.3 L92.5,612.9 L93.0,612.5 L93.5,610.8 L94.0,609.1 L94.5,607.4 L95.0,605.7 L95.5,604.0 L96.0,602.3 L96.5,600.7 L97.0,599.0 L97.5,597.4 L98.0,595.9 L98.5,594.3 L99.0,592.8 L99.5,591.4 L100.0,589.9 L100.5,588.5 L101.0,587.2 L101.5,585.9 L102.0,584.6 L102.5,583.4 L103.0,582.3 L103.5,581.2 L104.0,580.2 L104.5,579.2 L105.0,578.3 L105.5,577.5 L106.0,576.7 L106.5,576.0 L107.0,575.3 L107.5,574.7 L108.0,574.2 L108.5,573.8 L109.0,573.4 L109.5,573.1 L110.0,572.8 L110.5,572.7 L111.0,572.6 L111.5,572.6 L112.0,572.6 L112.5,572.8 L113.0,573.0 L113.5,573.3 L114.0,573.6 L114.5,574.0 L115.0,574.5 L115.5,575.1 L116.0,575.7 L116.5,576.4 L117.0,577.1 L117.5,578.0 L118.0,578.8 L118.5,579.8 L119.0,580.8 L119.5,581.9 L120.0,583.0 L120.5,584.2 L121.0,585.4 L121.5,586.7 L122.0,588.0 L122.5,589.4 L123.0,590.8 L123.5,592.2 L124.0,593.7 L124.5,595.2 L125.0,596.8 L125.5,598.4 L126.0,600.0 L126.5,601.7 L127.0,603.3 L127.5,605.0 L128.0,606.7 L128.5,608.4 L129.0,610.1 L129.5,611.8 L130.0,613.6 L130.5,611.7 L131.0,609.8 L131.5,608.0 L132.0,606.1 L132.5,604.3 L133.0,602.4 L133.5,600.6 L134.0,598.9 L134.5,597.1 L135.0,595.4 L135.5,593.7 L136.0,592.1 L136.5,590.4 L137.0,588.9 L137.5,587.3 L138.0,585.9 L138.5,584.4 L139.0,583.1 L139.5,581.7 L140.0,580.5 L140.5,579.3 L141.0,578.1 L141.5,577.0 L142.0,576.0 L142.5,575.1 L143.0,574.2 L143.5,573.4 L144.0,572.7 L144.5,572.0 L145.0,571.4 L145.5,570.9 L146.0,570.5 L146.5,570.1 L147.0,569.8 L147.5,569.6 L148.0,569.5 L148.5,569.5 L149.0,569.5 L149.5,569.6 L150.0,569.8 L150.5,570.1 L151.0,570.5 L151.5,570.9 L152.0,571.4 L152.5,572.0 L153.0,572.7 L153.5,573.4 L154.0,574.2 L154.5,575.1 L155.0,576.0 L155.5,577.0 L156.0,578.1 L156.5,579.3 L157.0,580.5 L157.5,581.7 L158.0,583.1 L158.5,584.4 L159.0,585.9 L159.5,587.3 L160.0,588.9 L160.5,590.4 L161.0,592.1 L161.5,593.7 L162.0,595.4 L162.5,597.1 L163.0,598.9 L163.5,600.6 L164.0,602.4 L164.5,604.3 L165.0,606.1 L165.5,608.0 L166.0,609.8 L166.5,611.7 L167.0,613.6 L167.5,611.5 L168.0,609.4 L168.5,607.3 L169.0,605.2 L169.5,603.1 L170.0,601.1 L170.5,599.1 L171.0,597.1 L171.5,595.1 L172.0,593.2 L172.5,591.3 L173.0,589.4 L173.5,587.6 L174.0,585.8 L174.5,584.1 L175.0,582.5 L175.5,580.9 L176.0,579.3 L176.5,577.8 L177.0,576.4 L177.5,575.1 L178.0,573.8 L178.5,572.6 L179.0,571.5 L179.5,570.4 L180.0,569.4 L180.5,568.5 L181.0,567.7 L181.5,567.0 L182.0,566.3 L182.5,565.8 L183.0,565.3 L183.5,564.9 L184.0,564.6 L184.5,564.4 L185.0,564.3 L185.5,564.3 L186.0,564.4 L186.5,564.5 L187.0,564.7 L187.5,565.1 L188.0,565.5 L188.5,566.0 L189.0,566.6 L189.5,567.3 L190.0,568.0 L190.5,568.9 L191.0,569.8 L191.5,570.8 L192.0,571.9 L192.5,573.1 L193.0,574.3 L193.5,575.6 L194.0,577.0 L194.5,578.4 L195.0,579.9 L195.5,581.5 L196.0,583.1 L196.5,584.8 L197.0,586.5 L197.5,588.3 L198.0,590.1 L198.5,592.0 L199.0,593.9 L199.5,595.9 L200.0,597.8 L200.5,599.9 L201.0,601.9 L201.5,603.9 L202.0,606.0 L202.5,608.1 L203.0,610.2 L203.5,612.3 L204.0,612.6 L204.5,610.1 L205.0,607.6 L205.5,605.2 L206.0,602.8 L206.5,600.4 L207.0,598.0 L207.5,595.6 L208.0,593.3 L208.5,591.0 L209.0,588.8 L209.5,586.6 L210.0,584.4 L210.5,582.4 L211.0,580.3 L211.5,578.4 L212.0,576.5 L212.5,574.6 L213.0,572.9 L213.5,571.2 L214.0,569.6 L214.5,568.1 L215.0,566.7 L215.5,565.4 L216.0,564.1 L216.5,563.0 L217.0,561.9 L217.5,561.0 L218.0,560.1 L218.5,559.4 L219.0,558.7 L219.5,558.2 L220.0,557.7 L220.5,557.4 L221.0,557.2 L221.5,557.0 L222.0,557.0 L222.5,557.1 L223.0,557.3 L223.5,557.6 L224.0,558.1 L224.5,558.6 L225.0,559.2 L225.5,559.9 L226.0,560.8 L226.5,561.7 L227.0,562.7 L227.5,563.9 L228.0,565.1 L228.5,566.4 L229.0,567.8 L229.5,569.3 L230.0,570.9 L230.5,572.5 L231.0,574.3 L231.5,576.1 L232.0,578.0 L232.5,579.9 L233.0,581.9 L233.5,584.0 L234.0,586.1 L234.5,588.3 L235.0,590.6 L235.5,592.8 L236.0,595.1 L236.5,597.5 L237.0,599.9 L237.5,602.3 L238.0,604.7 L238.5,607.2 L239.0,609.6 L239.5,612.1 L240.0,612.4 L240.5,609.5 L241.0,606.6 L241.5,603.7 L242.0,600.9 L242.5,598.0 L243.0,595.2 L243.5,592.5 L244.0,589.7 L244.5,587.0 L245.0,584.4 L245.5,581.8 L246.0,579.2 L246.5,576.8 L247.0,574.3 L247.5,572.0 L248.0,569.7 L248.5,567.5 L249.0,565.4 L249.5,563.4 L250.0,561.4 L250.5,559.6 L251.0,557.8 L251.5,556.2 L252.0,554.6 L252.5,553.2 L253.0,551.8 L253.5,550.6 L254.0,549.4 L254.5,548.4 L255.0,547.5 L255.5,546.8 L256.0,546.1 L256.5,545.6 L257.0,545.1 L257.5,544.8 L258.0,544.6 L258.5,544.6 L259.0,544.6 L259.5,544.8 L260.0,545.1 L260.5,545.6 L261.0,546.1 L261.5,546.8 L262.0,547.5 L262.5,548.4 L263.0,549.4 L263.5,550.6 L264.0,551.8 L264.5,553.2 L265.0,554.6 L265.5,556.2 L266.0,557.8 L266.5,559.6 L267.0,561.4 L267.5,563.4 L268.0,565.4 L268.5,567.5 L269.0,569.7 L269.5,572.0 L270.0,574.3 L270.5,576.8 L271.0,579.2 L271.5,581.8 L272.0,584.4 L272.5,587.0 L273.0,589.7 L273.5,592.5 L274.0,595.2 L274.5,598.0 L275.0,600.9 L275.5,603.7 L276.0,606.6 L276.5,609.5 L277.0,612.4 L277.5,611.1 L278.0,607.0 L278.5,602.8 L279.0,598.7 L279.5,594.7 L280.0,590.7 L280.5,586.7 L281.0,582.8 L281.5,578.9 L282.0,575.1 L282.5,571.4 L283.0,567.7 L283.5,564.2 L284.0,560.7 L284.5,557.4 L285.0,554.1 L285.5,551.0 L286.0,548.0 L286.5,545.1 L287.0,542.4 L287.5,539.8 L288.0,537.3 L288.5,535.0 L289.0,532.8 L289.5,530.9 L290.0,529.0 L290.5,527.4 L291.0,525.9 L291.5,524.5 L292.0,523.4 L292.5,522.4 L293.0,521.6 L293.5,521.0 L294.0,520.5 L294.5,520.3 L295.0,520.2 L295.5,520.3 L296.0,520.6 L296.5,521.1 L297.0,521.7 L297.5,522.6 L298.0,523.6 L298.5,524.8 L299.0,526.1 L299.5,527.7 L300.0,529.4 L300.5,531.2 L301.0,533.3 L301.5,535.5 L302.0,537.8 L302.5,540.3 L303.0,542.9 L303.5,545.7 L304.0,548.6 L304.5,551.6 L305.0,554.8 L305.5,558.0 L306.0,561.4 L306.5,564.9 L307.0,568.4 L307.5,572.1 L308.0,575.8 L308.5,579.7 L309.0,583.5 L309.5,587.5 L310.0,591.5 L310.5,595.5 L311.0,599.6 L311.5,603.7 L312.0,607.8 L312.5,611.9 L313.0,612.4 L313.5,608.2 L314.0,603.8 L314.5,599.3 L315.0,594.7 L315.5,590.0 L316.0,585.2 L316.5,580.3 L317.0,575.2 L317.5,570.1 L318.0,564.9 L318.5,559.6 L319.0,554.3 L319.5,548.9 L320.0,543.4 L320.5,538.0 L321.0,532.4 L321.5,526.9 L322.0,521.3 L322.5,515.8 L323.0,510.2 L323.5,504.7 L324.0,499.2 L324.5,493.7 L325.0,488.2 L325.5,482.8 L326.0,477.5 L326.5,472.2 L327.0,467.0 L327.5,462.0 L328.0,457.0 L328.5,452.1 L329.0,447.3 L329.5,442.6 L330.0,438.1 L330.5,433.7 L331.0,429.5 L331.5,425.4 L332.0,421.5 L332.5,417.7 L333.0,414.1 L333.5,410.7 L334.0,407.5 L334.5,404.5 L335.0,401.7 L335.5,399.1 L336.0,396.7 L336.5,394.5 L337.0,392.6 L337.5,390.8 L338.0,389.3 L338.5,388.0 L339.0,387.0 L339.5,386.2 L340.0,385.6 L340.5,385.2 L341.0,385.1 L341.5,385.2 L342.0,385.6 L342.5,386.2 L343.0,387.0 L343.5,388.1 L344.0,389.4 L344.5,390.9 L345.0,392.6 L345.5,394.6 L346.0,396.8 L346.5,399.2 L347.0,401.8 L347.5,404.7 L348.0,407.7 L348.5,410.9 L349.0,414.3 L349.5,417.9 L350.0,421.7 L350.5,425.7 L351.0,429.8 L351.5,434.0 L352.0,438.4 L352.5,443.0 L353.0,447.7 L353.5,452.5 L354.0,457.4 L354.5,462.4 L355.0,467.6 L355.5,472.8 L356.0,478.1 L356.5,483.4 L357.0,488.8 L357.5,494.3 L358.0,499.8 L358.5,505.4 L359.0,510.9 L359.5,516.5 L360.0,522.1 L360.5,527.7 L361.0,533.2 L361.5,538.8 L362.0,544.3 L362.5,549.7 L363.0,555.1 L363.5,560.5 L364.0,565.8 L364.5,571.0 L365.0,576.1 L365.5,581.1 L366.0,586.1 L366.5,590.9 L367.0,595.6 L367.5,600.2 L368.0,604.7 L368.5,609.0 L369.0,613.2 L369.5,611.1 L370.0,607.1 L370.5,603.1 L371.0,599.2 L371.5,595.2 L372.0,591.3 L372.5,587.4 L373.0,583.6 L373.5,579.8 L374.0,576.1 L374.5,572.5 L375.0,568.9 L375.5,565.4 L376.0,562.0 L376.5,558.7 L377.0,555.5 L377.5,552.5 L378.0,549.5 L378.5,546.6 L379.0,543.9 L379.5,541.3 L380.0,538.9 L380.5,536.6 L381.0,534.4 L381.5,532.4 L382.0,530.5 L382.5,528.8 L383.0,527.2 L383.5,525.8 L384.0,524.6 L384.5,523.5 L385.0,522.6 L385.5,521.9 L386.0,521.4 L386.5,521.0 L387.0,520.8 L387.5,520.7 L388.0,520.9 L388.5,521.2 L389.0,521.7 L389.5,522.3 L390.0,523.2 L390.5,524.2 L391.0,525.3 L391.5,526.6 L392.0,528.1 L392.5,529.8 L393.0,531.6 L393.5,533.6 L394.0,535.7 L394.5,537.9 L395.0,540.3 L395.5,542.9 L396.0,545.5 L396.5,548.3 L397.0,551.3 L397.5,554.3 L398.0,557.4 L398.5,560.7 L399.0,564.0 L399.5,567.5 L400.0,571.0 L400.5,574.6 L401.0,578.3 L401.5,582.1 L402.0,585.9 L402.5,589.7 L403.0,593.6 L403.5,597.6 L404.0,601.5 L404.5,605.5 L405.0,609.5 L405.5,613.6 L406.0,610.7 L406.5,607.9 L407.0,605.0 L407.5,602.2 L408.0,599.4 L408.5,596.7 L409.0,593.9 L409.5,591.2 L410.0,588.5 L410.5,585.9 L411.0,583.3 L411.5,580.8 L412.0,578.3 L412.5,575.9 L413.0,573.6 L413.5,571.3 L414.0,569.1 L414.5,567.0 L415.0,564.9 L415.5,563.0 L416.0,561.1 L416.5,559.3 L417.0,557.6 L417.5,556.0 L418.0,554.6 L418.5,553.2 L419.0,551.9 L419.5,550.7 L420.0,549.6 L420.5,548.7 L421.0,547.8 L421.5,547.1 L422.0,546.5 L422.5,546.0 L423.0,545.6 L423.5,545.3 L424.0,545.1 L424.5,545.1 L425.0,545.2 L425.5,545.4 L426.0,545.7 L426.5,546.1 L427.0,546.7 L427.5,547.4 L428.0,548.1 L428.5,549.0 L429.0,550.0 L429.5,551.2 L430.0,552.4 L430.5,553.7 L431.0,555.1 L431.5,556.7 L432.0,558.3 L432.5,560.0 L433.0,561.9 L433.5,563.8 L434.0,565.8 L434.5,567.8 L435.0,570.0 L435.5,572.2 L436.0,574.5 L436.5,576.9 L437.0,579.3 L437.5,581.8 L438.0,584.4 L438.5,587.0 L439.0,589.6 L439.5,592.3 L440.0,595.0 L440.5,597.8 L441.0,600.5 L441.5,603.4 L442.0,606.2 L442.5,609.0 L443.0,611.8 L443.5,612.6 L444.0,610.1 L444.5,607.6 L445.0,605.2 L445.5,602.7 L446.0,600.3 L446.5,597.9 L447.0,595.5 L447.5,593.2 L448.0,590.9 L448.5,588.7 L449.0,586.5 L449.5,584.3 L450.0,582.2 L450.5,580.2 L451.0,578.2 L451.5,576.3 L452.0,574.5 L452.5,572.7 L453.0,571.0 L453.5,569.4 L454.0,567.9 L454.5,566.4 L455.0,565.1 L455.5,563.8 L456.0,562.7 L456.5,561.6 L457.0,560.6 L457.5,559.7 L458.0,559.0 L458.5,558.3 L459.0,557.7 L459.5,557.3 L460.0,556.9 L460.5,556.7 L461.0,556.5 L461.5,556.5 L462.0,556.6 L462.5,556.8 L463.0,557.1 L463.5,557.5 L464.0,558.0 L464.5,558.6 L465.0,559.3 L465.5,560.1 L466.0,561.0 L466.5,562.0 L467.0,563.1 L467.5,564.3 L468.0,565.6 L468.5,567.0 L469.0,568.5 L469.5,570.0 L470.0,571.7 L470.5,573.4 L471.0,575.2 L471.5,577.1 L472.0,579.0 L472.5,581.0 L473.0,583.1 L473.5,585.2 L474.0,587.3 L474.5,589.6 L475.0,591.8 L475.5,594.1 L476.0,596.5 L476.5,598.9 L477.0,601.3 L477.5,603.7 L478.0,606.1 L478.5,608.6 L479.0,611.1 L479.5,613.6 L480.0,611.4 L480.5,609.3 L481.0,607.2 L481.5,605.1 L482.0,603.0 L482.5,600.9 L483.0,598.9 L483.5,596.9 L484.0,594.9 L484.5,592.9 L485.0,591.0 L485.5,589.2 L486.0,587.3 L486.5,585.5 L487.0,583.8 L487.5,582.1 L488.0,580.5 L488.5,579.0 L489.0,577.5 L489.5,576.0 L490.0,574.7 L490.5,573.4 L491.0,572.2 L491.5,571.0 L492.0,570.0 L492.5,569.0 L493.0,568.1 L493.5,567.2 L494.0,566.5 L494.5,565.9 L495.0,565.3 L495.5,564.8 L496.0,564.4 L496.5,564.1 L497.0,563.9 L497.5,563.8 L498.0,563.8 L498.5,563.8 L499.0,564.0 L499.5,564.2 L500.0,564.6 L500.5,565.0 L501.0,565.5 L501.5,566.1 L502.0,566.8 L502.5,567.6 L503.0,568.4 L503.5,569.3 L504.0,570.4 L504.5,571.5 L505.0,572.6 L505.5,573.9 L506.0,575.2 L506.5,576.6 L507.0,578.1 L507.5,579.6 L508.0,581.2 L508.5,582.8 L509.0,584.5 L509.5,586.2 L510.0,588.0 L510.5,589.9 L511.0,591.8 L511.5,593.7 L512.0,595.7 L512.5,597.7 L513.0,599.7 L513.5,601.8 L514.0,603.8 L514.5,605.9 L515.0,608.0 L515.5,610.2 L516.0,612.3 L516.5,612.8 L517.0,610.9 L517.5,608.9 L518.0,607.0 L518.5,605.1 L519.0,603.2 L519.5,601.3 L520.0,599.5 L520.5,597.7 L521.0,595.9 L521.5,594.1 L522.0,592.4 L522.5,590.7 L523.0,589.1 L523.5,587.5 L524.0,585.9 L524.5,584.4 L525.0,583.0 L525.5,581.6 L526.0,580.2 L526.5,579.0 L527.0,577.8 L527.5,576.6 L528.0,575.6 L528.5,574.5 L529.0,573.6 L529.5,572.7 L530.0,572.0 L530.5,571.3 L531.0,570.6 L531.5,570.1 L532.0,569.6 L532.5,569.2 L533.0,568.9 L533.5,568.7 L534.0,568.5 L534.5,568.4 L535.0,568.5 L535.5,568.6 L536.0,568.7 L536.5,569.0 L537.0,569.3 L537.5,569.8 L538.0,570.3 L538.5,570.9 L539.0,571.5 L539.5,572.3 L540.0,573.1 L540.5,574.0 L541.0,574.9 L541.5,576.0 L542.0,577.1 L542.5,578.2 L543.0,579.5 L543.5,580.8 L544.0,582.1 L544.5,583.5 L545.0,585.0 L545.5,586.5 L546.0,588.1 L546.5,589.7 L547.0,591.4 L547.5,593.1 L548.0,594.8 L548.5,596.6 L549.0,598.4 L549.5,600.2 L550.0,602.1 L550.5,604.0 L551.0,605.9 L551.5,607.8 L552.0,609.7 L552.5,611.6 L553.0,613.6 L553.5,611.8 L554.0,610.0 L554.5,608.2 L555.0,606.4 L555.5,604.7 L556.0,602.9 L556.5,601.2 L557.0,599.5 L557.5,597.8 L558.0,596.2 L558.5,594.6 L559.0,593.0 L559.5,591.5 L560.0,590.0 L560.5,588.5 L561.0,587.1 L561.5,585.8 L562.0,584.5 L562.5,583.2 L563.0,582.0 L563.5,580.9 L564.0,579.8 L564.5,578.8 L565.0,577.9 L565.5,577.0 L566.0,576.2 L566.5,575.4 L567.0,574.8 L567.5,574.2 L568.0,573.6 L568.5,573.2 L569.0,572.8 L569.5,572.5 L570.0,572.3 L570.5,572.1 L571.0,572.1 L571.5,572.1 L572.0,572.2 L572.5,572.3 L573.0,572.6 L573.5,572.9 L574.0,573.3 L574.5,573.7 L575.0,574.3 L575.5,574.9 L576.0,575.6 L576.5,576.3 L577.0,577.2 L577.5,578.0 L578.0,579.0 L578.5,580.0 L579.0,581.1 L579.5,582.3 L580.0,583.5 L580.5,584.7 L581.0,586.0 L581.5,587.4 L582.0,588.8 L582.5,590.3 L583.0,591.8 L583.5,593.3 L584.0,594.9 L584.5,596.5 L585.0,598.2 L585.5,599.9 L586.0,601.6 L586.5,603.3 L587.0,605.0 L587.5,606.8 L588.0,608.6 L588.5,610.3 L589.0,612.1 L589.5,613.2 L590.0,611.6 L590.5,609.9 L591.0,608.2 L591.5,606.6 L592.0,605.0 L592.5,603.4 L593.0,601.8 L593.5,600.2 L594.0,598.6 L594.5,597.1 L595.0,595.6 L595.5,594.2 L596.0,592.7 L596.5,591.3 L597.0,590.0 L597.5,588.7 L598.0,587.4 L598.5,586.2 L599.0,585.1 L599.5,584.0 L600.0,582.9 L600.5,581.9 L601.0,581.0 L601.5,580.1 L602.0,579.3 L602.5,578.5 L603.0,577.8 L603.5,577.2 L604.0,576.6 L604.5,576.2 L605.0,575.7 L605.5,575.4 L606.0,575.1 L606.5,574.9 L607.0,574.7 L607.5,574.7 L608.0,574.7 L608.5,574.7 L609.0,574.9 L609.5,575.1 L610.0,575.4 L610.5,575.7 L611.0,576.2 L611.5,576.6 L612.0,577.2 L612.5,577.8 L613.0,578.5 L613.5,579.3 L614.0,580.1 L614.5,581.0 L615.0,581.9 L615.5,582.9 L616.0,584.0 L616.5,585.1 L617.0,586.2 L617.5,587.4 L618.0,588.7 L618.5,590.0 L619.0,591.3 L619.5,592.7 L620.0,594.2 L620.5,595.6 L621.0,597.1 L621.5,598.6 L622.0,600.2 L622.5,601.8 L623.0,603.4 L623.5,605.0 L624.0,606.6 L624.5,608.2 L625.0,609.9 L625.5,611.6 L626.0,613.2 L626.5,612.3 L627.0,610.7 L627.5,609.1 L628.0,607.6 L628.5,606.0 L629.0,604.5 L629.5,603.0 L630.0,601.5 L630.5,600.0 L631.0,598.5 L631.5,597.1 L632.0,595.7"/><path fill="none" stroke="#f2f20a" stroke-width="2.4" stroke-dasharray="6.7 2.75" d="M43.8,578.3 L47.4,578.1 L51.0,577.9 L54.6,577.6 L58.2,577.4 L61.7,577.2 L65.3,576.9 L68.9,576.7 L72.5,576.4 L76.1,576.2 L79.6,575.9 L83.2,575.6 L86.8,575.3 L90.4,575.1 L94.0,574.8 L97.5,574.5 L101.1,574.2 L104.7,573.9 L108.3,573.6 L111.8,573.2 L115.4,572.9 L119.0,572.6 L122.6,572.2 L126.2,571.9 L129.7,571.5 L133.3,571.2 L136.9,570.8 L140.5,570.4 L144.1,570.0 L147.6,569.6 L151.2,569.1 L154.8,568.7 L158.4,568.3 L162.0,567.8 L165.5,567.3 L169.1,566.8 L172.7,566.3 L176.3,565.8 L179.8,565.3 L183.4,564.7 L187.0,564.1 L190.6,563.5 L194.2,562.9 L197.7,562.3 L201.3,561.6 L204.9,560.9 L208.5,560.2 L212.1,559.4 L215.6,558.6 L219.2,557.8 L222.8,557.0 L226.4,556.1 L230.0,555.2 L233.5,554.2 L237.1,553.1 L240.7,552.1 L244.3,550.9 L247.8,549.7 L251.4,548.4 L255.0,547.1 L258.6,545.6 L262.2,544.1 L265.7,542.4 L269.3,540.6 L272.9,538.7 L276.5,536.7 L280.1,534.4 L283.6,532.0 L287.2,529.3 L290.8,526.3 L294.4,523.0 L298.0,519.3 L301.5,515.1 L305.1,510.3 L305.7,509.5 L306.3,508.6 L306.9,507.7 L307.5,506.7 L308.1,505.8 L308.7,504.8 L309.3,503.8 L309.9,502.7 L310.5,501.6 L311.1,500.5 L311.7,499.4 L312.3,498.2 L312.9,497.0 L313.5,495.8 L314.1,494.5 L314.7,493.2 L315.3,491.8 L315.9,490.4 L316.4,488.9 L317.0,487.4 L317.6,485.8 L318.2,484.1 L318.8,482.4 L319.4,480.6 L320.0,478.8 L320.6,476.9 L321.2,474.8 L321.8,472.7 L322.4,470.5 L323.0,468.2 L323.6,465.8 L324.2,463.3 L324.8,460.6 L325.4,457.7 L326.0,454.7 L326.6,451.6 L327.2,448.2 L327.8,444.6 L328.4,440.8 L329.0,436.7 L329.6,432.3 L330.2,427.6 L330.8,422.4 L331.4,416.8 L332.0,410.8 L332.6,404.1 L333.1,396.7 L333.7,388.4 L334.3,379.2 L334.9,368.7"/><path fill="none" stroke="#f2f20a" stroke-width="2.2" stroke-dasharray="2.1 2.5" d="M44.1,607.2 L47.7,607.1 L51.2,607.0 L54.8,606.9 L58.4,606.8 L62.0,606.7 L65.6,606.6 L69.1,606.4 L72.7,606.3 L76.3,606.2 L79.9,606.1 L83.5,606.0 L87.0,605.9 L90.6,605.7 L94.2,605.6 L97.8,605.5 L101.3,605.3 L104.9,605.2 L108.5,605.0 L112.1,604.9 L115.7,604.7 L119.2,604.6 L122.8,604.4 L126.4,604.2 L130.0,604.0 L133.6,603.8 L137.1,603.6 L140.7,603.4 L144.3,603.2 L147.9,603.0 L151.5,602.8 L155.0,602.6 L158.6,602.3 L162.2,602.1 L165.8,601.8 L169.4,601.6 L172.9,601.3 L176.5,601.0 L180.1,600.7 L183.7,600.3 L187.2,600.0 L190.8,599.7 L194.4,599.3 L198.0,598.9 L201.6,598.5 L205.1,598.1 L208.7,597.6 L212.3,597.1 L215.9,596.6 L219.5,596.1 L223.0,595.5 L226.6,594.9 L230.2,594.3 L233.8,593.6 L237.4,592.9 L240.9,592.1 L244.5,591.2 L248.1,590.3 L251.7,589.4 L255.2,588.3 L258.8,587.2 L262.4,585.9 L266.0,584.5 L269.6,583.0 L273.1,581.4 L276.7,579.5 L280.3,577.4 L283.9,575.1 L287.5,572.5 L291.0,569.5 L294.6,566.0 L298.2,562.0 L301.8,557.2 L305.4,551.5 L305.7,550.9 L306.1,550.2 L306.4,549.6 L306.8,548.9 L307.1,548.2 L307.5,547.5 L307.9,546.8 L308.2,546.1 L308.6,545.3 L308.9,544.6 L309.3,543.8 L309.6,543.0 L310.0,542.2 L310.4,541.3 L310.7,540.5 L311.1,539.6 L311.4,538.7 L311.8,537.8 L312.2,536.8 L312.5,535.9 L312.9,534.9 L313.2,533.9 L313.6,532.8 L313.9,531.8 L314.3,530.7 L314.7,529.6 L315.0,528.4 L315.4,527.2 L315.7,526.0 L316.1,524.8 L316.4,523.5 L316.8,522.2 L317.2,520.8 L317.5,519.4 L317.9,517.9 L318.2,516.4 L318.6,514.9 L319.0,513.3 L319.3,511.7 L319.7,510.0 L320.0,508.2 L320.4,506.4 L320.7,504.6 L321.1,502.6 L321.5,500.6 L321.8,498.6 L322.2,496.4 L322.5,494.2 L322.9,491.8 L323.2,489.4 L323.6,486.9 L324.0,484.3 L324.3,481.6 L324.7,478.8 L325.0,475.8 L325.4,472.7 L325.8,469.5 L326.1,466.1 L326.5,462.6 L326.8,458.8 L327.2,454.9 L327.5,450.8 L327.9,446.5 L328.3,442.0 L328.6,437.2 L329.0,432.1 L329.3,426.7 L329.7,421.0 L330.0,415.0 L330.4,408.5 L330.8,401.6 L331.1,394.3 L331.5,386.4 L331.8,378.0 L332.2,368.8 L332.6,359.0"/><rect x="57.8" y="389.8" width="141.7" height="74.3" rx="2.5" fill="#2e4a80" stroke="#d0d8e4" stroke-width="0.6" opacity="0.97"/><line x1="64.2" y1="401.3" x2="98" y2="401.3" stroke="#f7a21b" stroke-width="2.6"/><line x1="65" y1="426.2" x2="97.2" y2="426.2" stroke="#f2f20a" stroke-width="2.3" stroke-dasharray="6.7 2.75"/><line x1="65" y1="450" x2="97.2" y2="450" stroke="#f2f20a" stroke-width="2.1" stroke-dasharray="2.1 2.5"/><text x="109.6" y="406.6" font-size="14.8" letter-spacing="1.0" style="fill:#f2f2f6">Planar 2D JJ</text><path fill="none" stroke="#f2f2f6" stroke-width="1.05" d="M121.1,423.8 C117.3,423.5 115.3,431.3 112.6,431.3 C109.6,431.3 109.6,423.5 112.6,423.5 C115.3,423.5 117.3,431.3 121.1,431.0"/><text x="126.2" y="432" font-size="15.5" style="fill:#f2f2f6">1</text><line x1="134.4" y1="435.7" x2="138.8" y2="419.7" stroke="#f2f2f6" stroke-width="1"/><path fill="none" stroke="#f2f2f6" stroke-width="1" d="M140.6,428.2 L142.6,426.9 L146.4,434.6 L154.9,417.9 L166.9,417.9"/><text x="154.6" y="432" font-size="15.5" class="it" style="fill:#f2f2f6">B</text><path fill="none" stroke="#f2f2f6" stroke-width="1.05" d="M121.1,447.6 C117.3,447.3 115.3,455.1 112.6,455.1 C109.6,455.1 109.6,447.3 112.6,447.3 C115.3,447.3 117.3,455.1 121.1,454.8"/><text x="126.2" y="455.4" font-size="15.5" style="fill:#f2f2f6">1</text><line x1="134.4" y1="459" x2="138.8" y2="443" stroke="#f2f2f6" stroke-width="1"/><text x="142.2" y="455.4" font-size="15.5" class="it" style="fill:#f2f2f6">B</text><rect x="585.70" y="386.80" width="11.67" height="22.90" fill="#8ecbeb"/><rect x="597.37" y="386.80" width="11.67" height="22.90" fill="#e3232b"/><rect x="609.03" y="386.80" width="11.67" height="22.90" fill="#8ecbeb"/><rect x="585.70" y="386.80" width="35.00" height="22.90" fill="none" stroke="#3a5a70" stroke-width="0.6"/><line x1="597.37" y1="386.80" x2="597.37" y2="409.70" stroke="#3a5a70" stroke-width="0.6"/><line x1="609.03" y1="386.80" x2="609.03" y2="409.70" stroke="#3a5a70" stroke-width="0.6"/><text transform="translate(591.53,405.30) scale(0.72,1)" font-size="21.0" text-anchor="middle" style="fill:#1a1a1a">S</text><text transform="translate(603.20,405.30) scale(0.72,1)" font-size="21.0" text-anchor="middle" style="fill:#1a1a1a">J</text><text transform="translate(614.87,405.30) scale(0.72,1)" font-size="21.0" text-anchor="middle" style="fill:#1a1a1a">S</text></g><rect x="49.7" y="381" width="581.9" height="238.5" fill="none" stroke="#000" stroke-width="1.3"/><rect x="637.6" y="381" width="7.1" height="238.5" fill="url(#cbV)" stroke="#000" stroke-width="1.1"/><text x="0.5" y="18.5" font-size="22.5" class="sans">a</text><text x="0.5" y="370.8" font-size="22.5" class="sans">b</text><text x="357.3" y="19" font-size="22.5" class="sans">c</text><text transform="translate(89.38,17.65) scale(0.913,1)" font-size="22.11" class="it">D</text><text transform="translate(103.45,20.35) scale(1.000,1)" font-size="14.14">l</text><text transform="translate(133.84,17.20) scale(0.813,1)" font-size="18.84" class="it">ϵ</text><text transform="translate(141.23,20.70) scale(1.000,1)" font-size="14.34">0</text><text transform="translate(157.25,17.55) scale(0.850,1)" font-size="23.44">(</text><text transform="translate(163.30,17.40) scale(0.984,1)" font-size="21.73">Vnm</text><text transform="translate(219.40,8.85) scale(1.000,1)" font-size="11.40">1</text><text transform="translate(226.01,17.45) scale(0.850,1)" font-size="23.56">)</text><text transform="translate(103.20,319.15) scale(0.873,1)" font-size="19.72" class="it">n</text><text transform="translate(113.45,322.25) scale(1.000,1)" font-size="13.58">j</text><text transform="translate(126.76,319.20) scale(0.850,1)" font-size="22.56">(</text><text transform="translate(133.24,318.90) scale(0.979,1)" font-size="19.13">10</text><text transform="translate(154.46,309.95) scale(1.090,1)" font-size="11.55">12</text><text transform="translate(167.16,318.90) scale(1.052,1)" font-size="19.04">cm</text><text transform="translate(204.65,311.25) scale(1.000,1)" font-size="13.35">2</text><text transform="translate(211.37,319.20) scale(0.850,1)" font-size="22.56">)</text><line x1="116.5" y1="22.4" x2="124.2" y2="1.6" stroke="#1a1a1a" stroke-width="1.1"/><line x1="208.20" y1="6.00" x2="217.20" y2="6.00" stroke="#1a1a1a" stroke-width="1.05"/><line x1="194.00" y1="307.80" x2="202.70" y2="307.80" stroke="#1a1a1a" stroke-width="1.05"/><text transform="translate(77.78,35.30) scale(0.930,1)" font-size="17.60">0.0</text><line x1="87.90" y1="43.50" x2="87.90" y2="39.90" stroke="#000" stroke-width="1.10"/><text transform="translate(125.70,35.30) scale(0.930,1)" font-size="17.60">0.2</text><line x1="135.70" y1="43.50" x2="135.70" y2="39.90" stroke="#000" stroke-width="1.10"/><text transform="translate(173.43,35.30) scale(0.930,1)" font-size="17.60">0.4</text><line x1="183.80" y1="43.50" x2="183.80" y2="39.90" stroke="#000" stroke-width="1.10"/><text transform="translate(220.75,35.30) scale(0.930,1)" font-size="17.60">0.6</text><line x1="231.00" y1="43.50" x2="231.00" y2="39.90" stroke="#000" stroke-width="1.10"/><text transform="translate(40.80,281.90) scale(0.930,1)" font-size="17.60">0</text><line x1="49.90" y1="275.60" x2="53.50" y2="275.60" stroke="#000" stroke-width="1.10"/><text transform="translate(24.30,211.60) scale(0.930,1)" font-size="17.60">100</text><line x1="49.90" y1="205.30" x2="53.50" y2="205.30" stroke="#000" stroke-width="1.10"/><text transform="translate(24.30,141.30) scale(0.930,1)" font-size="17.60">200</text><line x1="49.90" y1="135.00" x2="53.50" y2="135.00" stroke="#000" stroke-width="1.10"/><text transform="translate(24.30,70.90) scale(0.930,1)" font-size="17.60">300</text><line x1="49.90" y1="64.60" x2="53.50" y2="64.60" stroke="#000" stroke-width="1.10"/><line x1="69.60" y1="291.60" x2="80.40" y2="291.60" stroke="#1a1a1a" stroke-width="1.00"/><text transform="translate(81.50,296.20) scale(0.930,1)" font-size="17.60">5</text><line x1="79.00" y1="279.00" x2="79.00" y2="282.60" stroke="#000" stroke-width="1.10"/><text transform="translate(200.60,296.20) scale(0.930,1)" font-size="17.60">0</text><line x1="204.60" y1="279.00" x2="204.60" y2="282.60" stroke="#000" stroke-width="1.10"/><text transform="translate(275.71,299.05) scale(0.930,1)" font-size="21.50">0</text><line x1="280.40" y1="279.00" x2="280.40" y2="282.60" stroke="#000" stroke-width="1.10"/><text transform="translate(303.86,299.05) scale(0.930,1)" font-size="21.50">10</text><line x1="314.00" y1="279.00" x2="314.00" y2="282.60" stroke="#000" stroke-width="1.10"/><line x1="270.60" y1="275.40" x2="274.00" y2="275.40" stroke="#000" stroke-width="1.10"/><line x1="270.60" y1="205.10" x2="274.00" y2="205.10" stroke="#000" stroke-width="1.10"/><line x1="270.60" y1="135.00" x2="274.00" y2="135.00" stroke="#000" stroke-width="1.10"/><line x1="270.60" y1="64.80" x2="274.00" y2="64.80" stroke="#000" stroke-width="1.10"/><text transform="translate(371.70,47.60) scale(0.930,1)" font-size="17.60">270</text><line x1="397.40" y1="41.40" x2="401.00" y2="41.40" stroke="#000" stroke-width="1.10"/><text transform="translate(371.70,109.20) scale(0.930,1)" font-size="17.60">200</text><line x1="397.40" y1="103.00" x2="401.00" y2="103.00" stroke="#000" stroke-width="1.10"/><text transform="translate(371.70,197.20) scale(0.930,1)" font-size="17.60">100</text><line x1="397.40" y1="191.00" x2="401.00" y2="191.00" stroke="#000" stroke-width="1.10"/><text transform="translate(388.20,285.70) scale(0.930,1)" font-size="17.60">0</text><line x1="397.40" y1="279.50" x2="401.00" y2="279.50" stroke="#000" stroke-width="1.10"/><line x1="387.65" y1="293.60" x2="398.45" y2="293.60" stroke="#1a1a1a" stroke-width="1.00"/><text transform="translate(399.80,298.20) scale(0.930,1)" font-size="17.60">30</text><line x1="401.60" y1="280.00" x2="401.60" y2="283.60" stroke="#000" stroke-width="1.10"/><line x1="442.93" y1="293.60" x2="453.73" y2="293.60" stroke="#1a1a1a" stroke-width="1.00"/><text transform="translate(454.32,298.20) scale(0.930,1)" font-size="17.60">15</text><line x1="456.50" y1="280.00" x2="456.50" y2="283.60" stroke="#000" stroke-width="1.10"/><text transform="translate(508.30,298.20) scale(0.930,1)" font-size="17.60">0</text><line x1="512.30" y1="280.00" x2="512.30" y2="283.60" stroke="#000" stroke-width="1.10"/><text transform="translate(559.58,298.20) scale(0.930,1)" font-size="17.60">15</text><line x1="568.20" y1="280.00" x2="568.20" y2="283.60" stroke="#000" stroke-width="1.10"/><text transform="translate(615.55,298.20) scale(0.930,1)" font-size="17.60">30</text><line x1="623.80" y1="280.00" x2="623.80" y2="283.60" stroke="#000" stroke-width="1.10"/><text transform="translate(646.30,286.00) scale(0.930,1)" font-size="17.60">0</text><line x1="642.00" y1="280.00" x2="645.60" y2="280.00" stroke="#000" stroke-width="1.10"/><text transform="translate(645.80,166.50) scale(0.930,1)" font-size="17.60">5</text><line x1="642.00" y1="160.50" x2="645.60" y2="160.50" stroke="#000" stroke-width="1.10"/><text transform="translate(645.30,47.40) scale(0.930,1)" font-size="17.60">10</text><line x1="642.00" y1="41.40" x2="645.60" y2="41.40" stroke="#000" stroke-width="1.10"/><text transform="translate(34.10,621.25) scale(0.930,1)" font-size="17.60">0</text><line x1="45.80" y1="614.85" x2="49.70" y2="614.85" stroke="#000" stroke-width="1.10"/><text transform="translate(25.85,517.50) scale(0.930,1)" font-size="17.60">20</text><line x1="45.80" y1="511.10" x2="49.70" y2="511.10" stroke="#000" stroke-width="1.10"/><text transform="translate(25.85,413.80) scale(0.930,1)" font-size="17.60">40</text><line x1="45.80" y1="407.40" x2="49.70" y2="407.40" stroke="#000" stroke-width="1.10"/><line x1="88.95" y1="636.30" x2="99.75" y2="636.30" stroke="#1a1a1a" stroke-width="1.00"/><text transform="translate(101.10,640.90) scale(0.930,1)" font-size="17.60">20</text><line x1="102.90" y1="619.50" x2="102.90" y2="624.60" stroke="#000" stroke-width="1.10"/><line x1="208.62" y1="636.30" x2="219.43" y2="636.30" stroke="#1a1a1a" stroke-width="1.00"/><text transform="translate(220.03,640.90) scale(0.930,1)" font-size="17.60">10</text><line x1="222.20" y1="619.50" x2="222.20" y2="624.60" stroke="#000" stroke-width="1.10"/><text transform="translate(337.10,640.90) scale(0.930,1)" font-size="17.60">0</text><line x1="341.10" y1="619.50" x2="341.10" y2="624.60" stroke="#000" stroke-width="1.10"/><text transform="translate(452.38,640.90) scale(0.930,1)" font-size="17.60">10</text><line x1="461.00" y1="619.50" x2="461.00" y2="624.60" stroke="#000" stroke-width="1.10"/><text transform="translate(572.05,640.90) scale(0.930,1)" font-size="17.60">20</text><line x1="580.30" y1="619.50" x2="580.30" y2="624.60" stroke="#000" stroke-width="1.10"/><text transform="translate(653.10,625.70) scale(0.930,1)" font-size="17.60">0</text><line x1="644.70" y1="619.30" x2="649.50" y2="619.30" stroke="#000" stroke-width="1.10"/><text transform="translate(652.10,506.60) scale(0.930,1)" font-size="17.60">1</text><line x1="644.70" y1="500.20" x2="649.50" y2="500.20" stroke="#000" stroke-width="1.10"/><text transform="translate(652.85,387.40) scale(0.930,1)" font-size="17.60">2</text><line x1="644.70" y1="381.00" x2="649.50" y2="381.00" stroke="#000" stroke-width="1.10"/><g transform="rotate(-90)"><text transform="translate(-188.65,16.85) scale(1.103,1)" font-size="22.27" class="it">I</text></g><g transform="rotate(-90)"><text transform="translate(-172.78,16.85) scale(0.927,1)" font-size="21.82">(nA)</text></g><g transform="rotate(-90)"><text transform="translate(-186.75,363.65) scale(1.125,1)" font-size="21.65" class="it">I</text></g><g transform="rotate(-90)"><text transform="translate(-171.45,363.65) scale(0.905,1)" font-size="21.22">(nA)</text></g><g transform="rotate(-90)"><text transform="translate(-526.25,15.45) scale(1.045,1)" font-size="21.04" class="it">I</text></g><g transform="rotate(-90)"><text transform="translate(-511.92,15.45) scale(0.973,1)" font-size="20.62">(nA)</text></g><g transform="rotate(-90)"><text transform="translate(-186.65,679.75) scale(1.025,1)" font-size="20.20" class="it">R</text></g><g transform="rotate(-90)"><text transform="translate(-166.36,679.75) scale(0.814,1)" font-size="19.80">(kΩ)</text></g><g transform="rotate(-90)"><text transform="translate(-527.05,679.75) scale(1.025,1)" font-size="20.20" class="it">R</text></g><g transform="rotate(-90)"><text transform="translate(-506.41,679.75) scale(0.877,1)" font-size="19.80">(kΩ)</text></g><text transform="translate(270.95,321.35) scale(0.989,1)" font-size="22.11" class="it">R</text><text transform="translate(293.05,321.35) scale(0.901,1)" font-size="21.67">(kΩ)</text><text transform="translate(482.69,317.55) scale(1.031,1)" font-size="19.35" class="it">B</text><text transform="translate(502.07,317.55) scale(1.045,1)" font-size="18.96">(mT)</text><text transform="translate(312.20,663.05) scale(0.987,1)" font-size="19.35" class="it">B</text><text transform="translate(331.09,663.05) scale(1.019,1)" font-size="18.96">(mT)</text></svg>
</body></html>
